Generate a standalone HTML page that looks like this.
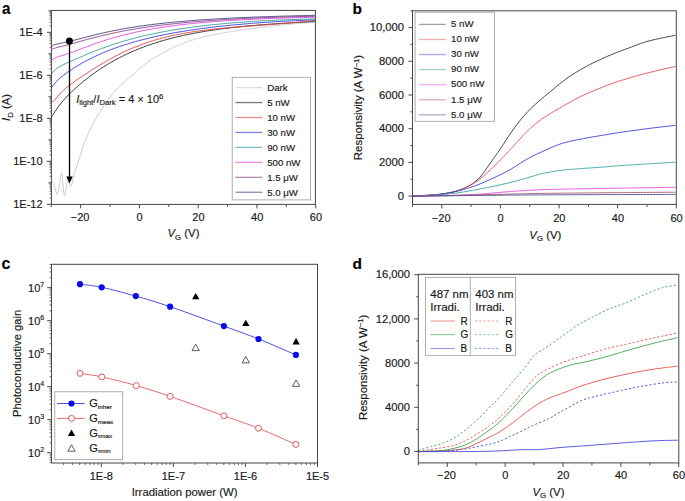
<!DOCTYPE html>
<html><head><meta charset="utf-8"><style>
html,body{margin:0;padding:0;background:#fff;}
body{width:685px;height:501px;overflow:hidden;}
svg{display:block;font-family:"Liberation Sans", sans-serif;}
text{stroke:#1a1a1a;stroke-width:0.16px;paint-order:stroke;}
</style></head><body>
<svg width="685" height="501" viewBox="0 0 685 501">
<rect width="685" height="501" fill="#fff"/>
<text transform="translate(2,13.5) scale(0.95,1)" font-size="16" font-weight="bold" fill="#000" >a</text>
<path d="M51.6,181.7 C51.9,181.82 52.78,181.18 53.4,182.4 C54.02,183.62 54.67,186.97 55.3,189 C55.93,191.03 56.53,195.1 57.2,194.6 C57.87,194.1 58.58,189.67 59.3,186 C60.02,182.33 60.88,172.77 61.5,172.6 C62.12,172.43 62.52,181.12 63,185 C63.48,188.88 63.87,195.4 64.4,195.9 C64.93,196.4 65.6,190.55 66.2,188 C66.8,185.45 67.18,180.93 68,180.6 C68.82,180.27 70.17,186.85 71.1,186 C72.03,185.15 73.18,177.25 73.6,175.5 C74.02,173.75 73.43,175.96 73.6,175.5 C73.77,175.04 74.27,173.66 74.6,172.72 C74.93,171.78 75.27,170.83 75.6,169.86 C75.93,168.89 76.27,167.9 76.6,166.89 C76.93,165.88 77.27,164.84 77.6,163.8 C77.93,162.76 78.27,161.69 78.6,160.63 C78.93,159.56 79.27,158.49 79.6,157.42 C79.93,156.36 80.27,155.3 80.6,154.25 C80.93,153.2 81.27,152.16 81.6,151.14 C81.93,150.13 82.27,149.12 82.6,148.14 C82.93,147.16 83.27,146.19 83.6,145.25 C83.93,144.31 84.27,143.4 84.6,142.51 C84.93,141.61 85.27,140.75 85.6,139.91 C85.93,139.06 86.27,138.25 86.6,137.46 C86.93,136.66 87.27,135.89 87.6,135.14 C87.93,134.39 88.27,133.66 88.6,132.93 C88.93,132.21 89.27,131.5 89.6,130.8 C89.93,130.09 90.27,129.4 90.6,128.71 C90.93,128.02 91.27,127.33 91.6,126.65 C91.93,125.97 92.27,125.3 92.6,124.63 C92.93,123.97 93.27,123.31 93.6,122.66 C93.93,122.02 94.27,121.38 94.6,120.76 C94.93,120.14 95.27,119.53 95.6,118.94 C95.93,118.34 96.27,117.76 96.6,117.19 C96.93,116.62 97.27,116.07 97.6,115.53 C97.93,114.98 98.27,114.45 98.6,113.93 C98.93,113.4 99.27,112.89 99.6,112.37 C99.93,111.86 100.27,111.36 100.6,110.86 C100.93,110.35 101.27,109.85 101.6,109.36 C101.93,108.86 102.27,108.36 102.6,107.87 C102.93,107.37 103.27,106.88 103.6,106.39 C103.93,105.9 104.27,105.4 104.6,104.91 C104.93,104.42 105.27,103.93 105.6,103.44 C105.93,102.96 106.27,102.47 106.6,101.98 C106.93,101.5 107.27,101.02 107.6,100.54 C107.93,100.06 108.27,99.59 108.6,99.12 C108.93,98.65 109.27,98.18 109.6,97.73 C109.93,97.27 110.27,96.81 110.6,96.37 C110.93,95.92 111.27,95.48 111.6,95.05 C111.93,94.62 112.27,94.19 112.6,93.78 C112.93,93.36 113.27,92.95 113.6,92.55 C113.93,92.15 114.27,91.75 114.6,91.37 C114.93,90.99 115.27,90.61 115.6,90.25 C115.93,89.88 116.27,89.53 116.6,89.18 C116.93,88.84 117.27,88.5 117.6,88.17 C117.93,87.84 118.27,87.52 118.6,87.2 C118.93,86.88 119.27,86.57 119.6,86.26 C119.93,85.95 120.27,85.64 120.6,85.34 C120.93,85.03 121.27,84.73 121.6,84.43 C121.93,84.13 122.27,83.83 122.6,83.53 C122.93,83.23 123.27,82.93 123.6,82.64 C123.93,82.34 124.27,82.05 124.6,81.76 C124.93,81.46 125.27,81.17 125.6,80.88 C125.93,80.59 126.27,80.31 126.6,80.02 C126.93,79.73 127.27,79.44 127.6,79.16 C127.93,78.87 128.27,78.58 128.6,78.3 C128.93,78.01 129.27,77.72 129.6,77.44 C129.93,77.15 130.27,76.86 130.6,76.57 C130.93,76.28 131.27,75.98 131.6,75.69 C131.93,75.4 132.27,75.1 132.6,74.8 C132.93,74.51 133.27,74.21 133.6,73.91 C133.93,73.61 134.27,73.3 134.6,73 C134.93,72.7 135.27,72.4 135.6,72.09 C135.93,71.79 136.27,71.48 136.6,71.18 C136.93,70.88 137.27,70.57 137.6,70.27 C137.93,69.97 138.27,69.67 138.6,69.37 C138.93,69.07 139.27,68.77 139.6,68.48 C139.93,68.19 140.27,67.9 140.6,67.61 C140.93,67.33 141.27,67.05 141.6,66.78 C141.93,66.5 142.27,66.23 142.6,65.97 C142.93,65.7 143.27,65.44 143.6,65.19 C143.93,64.93 144.27,64.68 144.6,64.43 C144.93,64.19 145.27,63.94 145.6,63.7 C145.93,63.45 146.27,63.21 146.6,62.97 C146.93,62.73 147.27,62.5 147.6,62.26 C147.93,62.03 148.27,61.8 148.6,61.57 C148.93,61.34 149.27,61.11 149.6,60.89 C149.93,60.67 150.27,60.45 150.6,60.23 C150.93,60.02 151.27,59.8 151.6,59.59 C151.93,59.38 152.27,59.17 152.6,58.97 C152.93,58.76 153.27,58.56 153.6,58.36 C153.93,58.16 154.27,57.96 154.6,57.75 C154.93,57.55 155.27,57.36 155.6,57.16 C155.93,56.96 156.27,56.76 156.6,56.56 C156.93,56.37 157.27,56.17 157.6,55.98 C157.93,55.78 158.27,55.59 158.6,55.39 C158.93,55.2 159.27,55.01 159.6,54.82 C159.93,54.63 160.27,54.44 160.6,54.26 C160.93,54.07 161.27,53.88 161.6,53.7 C161.93,53.51 162.27,53.33 162.6,53.14 C162.93,52.96 163.27,52.77 163.6,52.59 C163.93,52.41 164.27,52.22 164.6,52.04 C164.93,51.86 165.27,51.68 165.6,51.49 C165.93,51.31 166.27,51.13 166.6,50.95 C166.93,50.76 167.27,50.58 167.6,50.4 C167.93,50.22 168.27,50.03 168.6,49.85 C168.93,49.67 169.27,49.49 169.6,49.31 C169.93,49.13 170.27,48.95 170.6,48.77 C170.93,48.59 171.27,48.42 171.6,48.24 C171.93,48.07 172.27,47.9 172.6,47.73 C172.93,47.57 173.27,47.4 173.6,47.24 C173.93,47.09 174.27,46.93 174.6,46.78 C174.93,46.63 175.27,46.48 175.6,46.34 C175.93,46.19 176.27,46.05 176.6,45.91 C176.93,45.77 177.27,45.64 177.6,45.5 C177.93,45.36 178.27,45.23 178.6,45.1 C178.93,44.96 179.27,44.83 179.6,44.7 C179.93,44.56 180.27,44.43 180.6,44.3 C180.93,44.17 181.27,44.03 181.6,43.9 C181.93,43.77 182.27,43.64 182.6,43.5 C182.93,43.37 183.27,43.24 183.6,43.11 C183.93,42.98 184.27,42.85 184.6,42.72 C184.93,42.59 185.27,42.46 185.6,42.33 C185.93,42.2 186.27,42.07 186.6,41.95 C186.93,41.82 187.27,41.7 187.6,41.58 C187.93,41.46 188.27,41.34 188.6,41.23 C188.93,41.11 189.27,41 189.6,40.89 C189.93,40.78 190.27,40.67 190.6,40.56 C190.93,40.45 191.27,40.35 191.6,40.25 C191.93,40.14 192.27,40.04 192.6,39.94 C192.93,39.84 193.27,39.74 193.6,39.63 C193.93,39.53 194.27,39.43 194.6,39.33 C194.93,39.23 195.27,39.13 195.6,39.03 C195.93,38.93 196.27,38.83 196.6,38.73 C196.93,38.63 197.27,38.53 197.6,38.43 C197.93,38.33 198.27,38.23 198.6,38.13 C198.93,38.03 199.27,37.93 199.6,37.83 C199.93,37.74 200.27,37.64 200.6,37.55 C200.93,37.45 201.27,37.36 201.6,37.27 C201.93,37.18 202.27,37.09 202.6,37 C202.93,36.92 203.27,36.83 203.6,36.75 C203.93,36.67 204.27,36.6 204.6,36.52 C204.93,36.45 205.27,36.37 205.6,36.3 C205.93,36.23 206.27,36.16 206.6,36.09 C206.93,36.02 207.27,35.96 207.6,35.89 C207.93,35.82 208.27,35.76 208.6,35.69 C208.93,35.62 209.27,35.56 209.6,35.49 C209.93,35.42 210.27,35.36 210.6,35.29 C210.93,35.22 211.27,35.16 211.6,35.09 C211.93,35.03 212.27,34.96 212.6,34.89 C212.93,34.83 213.27,34.76 213.6,34.7 C213.93,34.63 214.27,34.56 214.6,34.5 C214.93,34.43 215.27,34.37 215.6,34.3 C215.93,34.24 216.27,34.17 216.6,34.11 C216.93,34.05 217.27,33.98 217.6,33.92 C217.93,33.86 218.27,33.8 218.6,33.73 C218.93,33.67 219.27,33.61 219.6,33.55 C219.93,33.49 220.27,33.43 220.6,33.37 C220.93,33.31 221.27,33.25 221.6,33.19 C221.93,33.13 222.27,33.07 222.6,33.01 C222.93,32.95 223.27,32.89 223.6,32.84 C223.93,32.78 224.27,32.72 224.6,32.66 C224.93,32.6 225.27,32.54 225.6,32.48 C225.93,32.42 226.27,32.36 226.6,32.31 C226.93,32.25 227.27,32.19 227.6,32.13 C227.93,32.08 228.27,32.02 228.6,31.96 C228.93,31.91 229.27,31.85 229.6,31.8 C229.93,31.74 230.27,31.69 230.6,31.64 C230.93,31.58 231.27,31.53 231.6,31.48 C231.93,31.43 232.27,31.38 232.6,31.33 C232.93,31.28 233.27,31.23 233.6,31.18 C233.93,31.13 234.27,31.08 234.6,31.03 C234.93,30.99 235.27,30.94 235.6,30.89 C235.93,30.84 236.27,30.79 236.6,30.74 C236.93,30.69 237.27,30.65 237.6,30.6 C237.93,30.55 238.27,30.5 238.6,30.45 C238.93,30.4 239.27,30.36 239.6,30.31 C239.93,30.26 240.27,30.21 240.6,30.16 C240.93,30.11 241.27,30.07 241.6,30.02 C241.93,29.97 242.27,29.92 242.6,29.87 C242.93,29.82 243.27,29.78 243.6,29.73 C243.93,29.68 244.27,29.63 244.6,29.58 C244.93,29.53 245.27,29.49 245.6,29.44 C245.93,29.39 246.27,29.34 246.6,29.29 C246.93,29.25 247.27,29.2 247.6,29.15 C247.93,29.1 248.27,29.06 248.6,29.01 C248.93,28.96 249.27,28.92 249.6,28.87 C249.93,28.83 250.27,28.78 250.6,28.74 C250.93,28.69 251.27,28.65 251.6,28.6 C251.93,28.56 252.27,28.52 252.6,28.47 C252.93,28.43 253.27,28.39 253.6,28.35 C253.93,28.3 254.27,28.26 254.6,28.22 C254.93,28.18 255.27,28.13 255.6,28.09 C255.93,28.05 256.27,28.01 256.6,27.96 C256.93,27.92 257.27,27.88 257.6,27.84 C257.93,27.8 258.27,27.75 258.6,27.71 C258.93,27.67 259.27,27.63 259.6,27.58 C259.93,27.54 260.27,27.5 260.6,27.46 C260.93,27.42 261.27,27.37 261.6,27.33 C261.93,27.29 262.27,27.25 262.6,27.2 C262.93,27.16 263.27,27.12 263.6,27.08 C263.93,27.04 264.27,26.99 264.6,26.95 C264.93,26.91 265.27,26.87 265.6,26.82 C265.93,26.78 266.27,26.74 266.6,26.7 C266.93,26.66 267.27,26.61 267.6,26.57 C267.93,26.53 268.27,26.49 268.6,26.44 C268.93,26.4 269.27,26.36 269.6,26.32 C269.93,26.28 270.27,26.23 270.6,26.19 C270.93,26.15 271.27,26.11 271.6,26.06 C271.93,26.02 272.27,25.98 272.6,25.94 C272.93,25.9 273.27,25.85 273.6,25.81 C273.93,25.77 274.27,25.73 274.6,25.68 C274.93,25.64 275.27,25.6 275.6,25.56 C275.93,25.52 276.27,25.48 276.6,25.43 C276.93,25.39 277.27,25.35 277.6,25.31 C277.93,25.27 278.27,25.23 278.6,25.2 C278.93,25.16 279.27,25.12 279.6,25.08 C279.93,25.05 280.27,25.01 280.6,24.98 C280.93,24.94 281.27,24.91 281.6,24.88 C281.93,24.85 282.27,24.82 282.6,24.78 C282.93,24.75 283.27,24.72 283.6,24.69 C283.93,24.67 284.27,24.64 284.6,24.61 C284.93,24.58 285.27,24.55 285.6,24.52 C285.93,24.49 286.27,24.46 286.6,24.43 C286.93,24.41 287.27,24.38 287.6,24.35 C287.93,24.32 288.27,24.29 288.6,24.26 C288.93,24.23 289.27,24.21 289.6,24.18 C289.93,24.15 290.27,24.12 290.6,24.09 C290.93,24.06 291.27,24.03 291.6,24.01 C291.93,23.98 292.27,23.95 292.6,23.92 C292.93,23.89 293.27,23.86 293.6,23.83 C293.93,23.81 294.27,23.78 294.6,23.75 C294.93,23.72 295.27,23.69 295.6,23.66 C295.93,23.63 296.27,23.61 296.6,23.58 C296.93,23.55 297.27,23.52 297.6,23.49 C297.93,23.46 298.27,23.43 298.6,23.41 C298.93,23.38 299.27,23.35 299.6,23.32 C299.93,23.29 300.27,23.26 300.6,23.23 C300.93,23.21 301.27,23.18 301.6,23.15 C301.93,23.12 302.27,23.09 302.6,23.06 C302.93,23.03 303.27,23.01 303.6,22.98 C303.93,22.95 304.27,22.92 304.6,22.89 C304.93,22.86 305.27,22.83 305.6,22.81 C305.93,22.78 306.27,22.75 306.6,22.72 C306.93,22.69 307.27,22.66 307.6,22.63 C307.93,22.61 308.27,22.58 308.6,22.55 C308.93,22.52 309.27,22.49 309.6,22.46 C309.93,22.43 310.27,22.41 310.6,22.38 C310.93,22.35 311.27,22.32 311.6,22.29 C311.93,22.26 312.27,22.23 312.6,22.21 C312.93,22.18 313.27,22.15 313.6,22.12 C313.93,22.09 314.43,22.05 314.6,22.03" fill="none" stroke="#c4c4c4" stroke-width="0.9" stroke-linejoin="round" />
<path d="M51.6,116.97 C51.93,116.43 52.93,114.79 53.6,113.73 C54.27,112.67 54.93,111.62 55.6,110.61 C56.27,109.61 56.93,108.64 57.6,107.71 C58.27,106.78 58.93,105.89 59.6,105.03 C60.27,104.17 60.93,103.34 61.6,102.53 C62.27,101.72 62.93,100.94 63.6,100.18 C64.27,99.42 64.93,98.68 65.6,97.95 C66.27,97.23 66.93,96.53 67.6,95.83 C68.27,95.14 68.93,94.46 69.6,93.8 C70.27,93.13 70.93,92.48 71.6,91.83 C72.27,91.19 72.93,90.56 73.6,89.94 C74.27,89.31 74.93,88.7 75.6,88.1 C76.27,87.49 76.93,86.9 77.6,86.31 C78.27,85.72 78.93,85.14 79.6,84.57 C80.27,84 80.93,83.43 81.6,82.88 C82.27,82.32 82.93,81.77 83.6,81.23 C84.27,80.68 84.93,80.15 85.6,79.62 C86.27,79.09 86.93,78.57 87.6,78.05 C88.27,77.53 88.93,77.03 89.6,76.52 C90.27,76.02 90.93,75.52 91.6,75.03 C92.27,74.54 92.93,74.05 93.6,73.57 C94.27,73.09 94.93,72.62 95.6,72.15 C96.27,71.69 96.93,71.22 97.6,70.77 C98.27,70.31 98.93,69.86 99.6,69.42 C100.27,68.97 100.93,68.53 101.6,68.1 C102.27,67.67 102.93,67.24 103.6,66.82 C104.27,66.39 104.93,65.97 105.6,65.56 C106.27,65.15 106.93,64.74 107.6,64.34 C108.27,63.94 108.93,63.54 109.6,63.15 C110.27,62.76 110.93,62.37 111.6,61.99 C112.27,61.61 112.93,61.23 113.6,60.86 C114.27,60.49 114.93,60.12 115.6,59.76 C116.27,59.39 116.93,59.03 117.6,58.68 C118.27,58.33 118.93,57.98 119.6,57.63 C120.27,57.29 120.93,56.95 121.6,56.61 C122.27,56.28 122.93,55.95 123.6,55.62 C124.27,55.29 124.93,54.97 125.6,54.65 C126.27,54.33 126.93,54.02 127.6,53.71 C128.27,53.4 128.93,53.09 129.6,52.79 C130.27,52.49 130.93,52.19 131.6,51.9 C132.27,51.6 132.93,51.31 133.6,51.03 C134.27,50.74 134.93,50.46 135.6,50.18 C136.27,49.9 136.93,49.62 137.6,49.35 C138.27,49.08 138.93,48.81 139.6,48.55 C140.27,48.28 140.93,48.02 141.6,47.76 C142.27,47.51 142.93,47.25 143.6,47 C144.27,46.75 144.93,46.5 145.6,46.26 C146.27,46.02 146.93,45.78 147.6,45.54 C148.27,45.3 148.93,45.07 149.6,44.83 C150.27,44.6 150.93,44.38 151.6,44.15 C152.27,43.93 152.93,43.7 153.6,43.48 C154.27,43.26 154.93,43.05 155.6,42.84 C156.27,42.62 156.93,42.41 157.6,42.2 C158.27,42 158.93,41.79 159.6,41.59 C160.27,41.39 160.93,41.19 161.6,40.99 C162.27,40.8 162.93,40.6 163.6,40.41 C164.27,40.22 164.93,40.03 165.6,39.84 C166.27,39.66 166.93,39.47 167.6,39.29 C168.27,39.11 168.93,38.93 169.6,38.76 C170.27,38.58 170.93,38.41 171.6,38.23 C172.27,38.06 172.93,37.89 173.6,37.73 C174.27,37.56 174.93,37.39 175.6,37.23 C176.27,37.07 176.93,36.91 177.6,36.75 C178.27,36.59 178.93,36.44 179.6,36.28 C180.27,36.13 180.93,35.98 181.6,35.83 C182.27,35.68 182.93,35.53 183.6,35.38 C184.27,35.24 184.93,35.09 185.6,34.95 C186.27,34.81 186.93,34.67 187.6,34.53 C188.27,34.39 188.93,34.26 189.6,34.12 C190.27,33.99 190.93,33.86 191.6,33.73 C192.27,33.6 192.93,33.47 193.6,33.34 C194.27,33.21 194.93,33.09 195.6,32.96 C196.27,32.84 196.93,32.72 197.6,32.6 C198.27,32.48 198.93,32.36 199.6,32.24 C200.27,32.12 200.93,32.01 201.6,31.89 C202.27,31.78 202.93,31.67 203.6,31.56 C204.27,31.44 204.93,31.34 205.6,31.23 C206.27,31.12 206.93,31.01 207.6,30.91 C208.27,30.8 208.93,30.7 209.6,30.6 C210.27,30.49 210.93,30.39 211.6,30.29 C212.27,30.19 212.93,30.09 213.6,30 C214.27,29.9 214.93,29.8 215.6,29.71 C216.27,29.62 216.93,29.52 217.6,29.43 C218.27,29.34 218.93,29.25 219.6,29.16 C220.27,29.07 220.93,28.98 221.6,28.89 C222.27,28.81 222.93,28.72 223.6,28.64 C224.27,28.55 224.93,28.47 225.6,28.38 C226.27,28.3 226.93,28.22 227.6,28.14 C228.27,28.06 228.93,27.98 229.6,27.9 C230.27,27.82 230.93,27.74 231.6,27.67 C232.27,27.59 232.93,27.52 233.6,27.44 C234.27,27.37 234.93,27.29 235.6,27.22 C236.27,27.15 236.93,27.08 237.6,27.01 C238.27,26.94 238.93,26.87 239.6,26.8 C240.27,26.73 240.93,26.66 241.6,26.59 C242.27,26.53 242.93,26.46 243.6,26.39 C244.27,26.33 244.93,26.26 245.6,26.2 C246.27,26.14 246.93,26.07 247.6,26.01 C248.27,25.95 248.93,25.89 249.6,25.83 C250.27,25.76 250.93,25.7 251.6,25.65 C252.27,25.59 252.93,25.53 253.6,25.47 C254.27,25.41 254.93,25.35 255.6,25.3 C256.27,25.24 256.93,25.19 257.6,25.13 C258.27,25.07 258.93,25.02 259.6,24.97 C260.27,24.91 260.93,24.86 261.6,24.81 C262.27,24.75 262.93,24.7 263.6,24.65 C264.27,24.6 264.93,24.55 265.6,24.5 C266.27,24.45 266.93,24.4 267.6,24.35 C268.27,24.3 268.93,24.25 269.6,24.2 C270.27,24.15 270.93,24.11 271.6,24.06 C272.27,24.01 272.93,23.97 273.6,23.92 C274.27,23.87 274.93,23.83 275.6,23.78 C276.27,23.74 276.93,23.69 277.6,23.65 C278.27,23.6 278.93,23.56 279.6,23.52 C280.27,23.47 280.93,23.43 281.6,23.39 C282.27,23.35 282.93,23.3 283.6,23.26 C284.27,23.22 284.93,23.18 285.6,23.14 C286.27,23.1 286.93,23.06 287.6,23.02 C288.27,22.98 288.93,22.94 289.6,22.9 C290.27,22.86 290.93,22.82 291.6,22.78 C292.27,22.74 292.93,22.7 293.6,22.66 C294.27,22.63 294.93,22.59 295.6,22.55 C296.27,22.51 296.93,22.48 297.6,22.44 C298.27,22.4 298.93,22.37 299.6,22.33 C300.27,22.29 300.93,22.26 301.6,22.22 C302.27,22.19 302.93,22.15 303.6,22.11 C304.27,22.08 304.93,22.04 305.6,22.01 C306.27,21.97 306.93,21.94 307.6,21.91 C308.27,21.87 308.93,21.84 309.6,21.8 C310.27,21.77 310.93,21.74 311.6,21.7 C312.27,21.67 313.03,21.63 313.6,21.6 C314.17,21.57 314.77,21.54 315,21.53" fill="none" stroke="#222222" stroke-width="0.9" stroke-linejoin="round" />
<path d="M51.6,102.12 C51.93,101.98 52.93,101.8 53.6,101.29 C54.27,100.79 54.93,99.86 55.6,99.08 C56.27,98.29 56.93,97.41 57.6,96.6 C58.27,95.8 58.93,95 59.6,94.24 C60.27,93.49 60.93,92.77 61.6,92.08 C62.27,91.4 62.93,90.75 63.6,90.13 C64.27,89.5 64.93,88.91 65.6,88.33 C66.27,87.76 66.93,87.21 67.6,86.67 C68.27,86.14 68.93,85.62 69.6,85.11 C70.27,84.6 70.93,84.11 71.6,83.62 C72.27,83.13 72.93,82.65 73.6,82.18 C74.27,81.7 74.93,81.24 75.6,80.77 C76.27,80.31 76.93,79.85 77.6,79.39 C78.27,78.94 78.93,78.49 79.6,78.04 C80.27,77.59 80.93,77.14 81.6,76.69 C82.27,76.25 82.93,75.81 83.6,75.36 C84.27,74.92 84.93,74.48 85.6,74.05 C86.27,73.61 86.93,73.17 87.6,72.74 C88.27,72.31 88.93,71.87 89.6,71.44 C90.27,71.01 90.93,70.59 91.6,70.16 C92.27,69.73 92.93,69.31 93.6,68.89 C94.27,68.47 94.93,68.05 95.6,67.63 C96.27,67.22 96.93,66.8 97.6,66.39 C98.27,65.98 98.93,65.57 99.6,65.17 C100.27,64.76 100.93,64.36 101.6,63.96 C102.27,63.56 102.93,63.17 103.6,62.78 C104.27,62.38 104.93,61.99 105.6,61.61 C106.27,61.22 106.93,60.84 107.6,60.46 C108.27,60.08 108.93,59.71 109.6,59.34 C110.27,58.96 110.93,58.6 111.6,58.23 C112.27,57.87 112.93,57.51 113.6,57.15 C114.27,56.79 114.93,56.44 115.6,56.09 C116.27,55.75 116.93,55.4 117.6,55.06 C118.27,54.72 118.93,54.38 119.6,54.05 C120.27,53.72 120.93,53.39 121.6,53.06 C122.27,52.74 122.93,52.42 123.6,52.1 C124.27,51.79 124.93,51.47 125.6,51.17 C126.27,50.86 126.93,50.55 127.6,50.25 C128.27,49.95 128.93,49.66 129.6,49.36 C130.27,49.07 130.93,48.78 131.6,48.5 C132.27,48.21 132.93,47.93 133.6,47.66 C134.27,47.38 134.93,47.11 135.6,46.84 C136.27,46.57 136.93,46.31 137.6,46.05 C138.27,45.79 138.93,45.53 139.6,45.28 C140.27,45.02 140.93,44.77 141.6,44.53 C142.27,44.28 142.93,44.04 143.6,43.8 C144.27,43.57 144.93,43.33 145.6,43.1 C146.27,42.87 146.93,42.64 147.6,42.42 C148.27,42.2 148.93,41.98 149.6,41.76 C150.27,41.54 150.93,41.33 151.6,41.12 C152.27,40.91 152.93,40.71 153.6,40.5 C154.27,40.3 154.93,40.1 155.6,39.91 C156.27,39.71 156.93,39.52 157.6,39.33 C158.27,39.14 158.93,38.95 159.6,38.77 C160.27,38.59 160.93,38.41 161.6,38.23 C162.27,38.05 162.93,37.88 163.6,37.71 C164.27,37.53 164.93,37.37 165.6,37.2 C166.27,37.04 166.93,36.87 167.6,36.71 C168.27,36.55 168.93,36.4 169.6,36.24 C170.27,36.09 170.93,35.94 171.6,35.79 C172.27,35.64 172.93,35.49 173.6,35.35 C174.27,35.21 174.93,35.06 175.6,34.93 C176.27,34.79 176.93,34.65 177.6,34.52 C178.27,34.38 178.93,34.25 179.6,34.12 C180.27,33.99 180.93,33.87 181.6,33.74 C182.27,33.62 182.93,33.5 183.6,33.38 C184.27,33.26 184.93,33.14 185.6,33.02 C186.27,32.91 186.93,32.79 187.6,32.68 C188.27,32.57 188.93,32.46 189.6,32.35 C190.27,32.24 190.93,32.14 191.6,32.03 C192.27,31.93 192.93,31.83 193.6,31.73 C194.27,31.63 194.93,31.53 195.6,31.43 C196.27,31.33 196.93,31.24 197.6,31.14 C198.27,31.05 198.93,30.96 199.6,30.87 C200.27,30.78 200.93,30.69 201.6,30.6 C202.27,30.51 202.93,30.43 203.6,30.34 C204.27,30.26 204.93,30.18 205.6,30.09 C206.27,30.01 206.93,29.93 207.6,29.85 C208.27,29.77 208.93,29.7 209.6,29.62 C210.27,29.54 210.93,29.47 211.6,29.4 C212.27,29.32 212.93,29.25 213.6,29.18 C214.27,29.1 214.93,29.03 215.6,28.96 C216.27,28.9 216.93,28.83 217.6,28.76 C218.27,28.69 218.93,28.63 219.6,28.56 C220.27,28.49 220.93,28.43 221.6,28.37 C222.27,28.3 222.93,28.24 223.6,28.18 C224.27,28.11 224.93,28.05 225.6,27.99 C226.27,27.93 226.93,27.87 227.6,27.81 C228.27,27.75 228.93,27.7 229.6,27.64 C230.27,27.58 230.93,27.52 231.6,27.47 C232.27,27.41 232.93,27.35 233.6,27.3 C234.27,27.24 234.93,27.19 235.6,27.14 C236.27,27.08 236.93,27.03 237.6,26.97 C238.27,26.92 238.93,26.87 239.6,26.82 C240.27,26.76 240.93,26.71 241.6,26.66 C242.27,26.61 242.93,26.56 243.6,26.51 C244.27,26.45 244.93,26.4 245.6,26.35 C246.27,26.3 246.93,26.25 247.6,26.2 C248.27,26.15 248.93,26.1 249.6,26.05 C250.27,26 250.93,25.95 251.6,25.91 C252.27,25.86 252.93,25.81 253.6,25.76 C254.27,25.71 254.93,25.66 255.6,25.61 C256.27,25.56 256.93,25.51 257.6,25.46 C258.27,25.42 258.93,25.37 259.6,25.32 C260.27,25.27 260.93,25.22 261.6,25.17 C262.27,25.12 262.93,25.07 263.6,25.02 C264.27,24.97 264.93,24.93 265.6,24.88 C266.27,24.83 266.93,24.78 267.6,24.73 C268.27,24.68 268.93,24.63 269.6,24.58 C270.27,24.53 270.93,24.48 271.6,24.43 C272.27,24.38 272.93,24.33 273.6,24.27 C274.27,24.22 274.93,24.17 275.6,24.12 C276.27,24.07 276.93,24.02 277.6,23.96 C278.27,23.91 278.93,23.86 279.6,23.81 C280.27,23.75 280.93,23.7 281.6,23.65 C282.27,23.59 282.93,23.54 283.6,23.48 C284.27,23.43 284.93,23.37 285.6,23.32 C286.27,23.26 286.93,23.21 287.6,23.15 C288.27,23.09 288.93,23.04 289.6,22.98 C290.27,22.92 290.93,22.86 291.6,22.8 C292.27,22.74 292.93,22.69 293.6,22.63 C294.27,22.57 294.93,22.51 295.6,22.44 C296.27,22.38 296.93,22.32 297.6,22.26 C298.27,22.2 298.93,22.13 299.6,22.07 C300.27,22.01 300.93,21.94 301.6,21.88 C302.27,21.81 302.93,21.75 303.6,21.68 C304.27,21.61 304.93,21.55 305.6,21.48 C306.27,21.41 306.93,21.34 307.6,21.27 C308.27,21.21 308.93,21.14 309.6,21.06 C310.27,20.99 310.93,20.92 311.6,20.85 C312.27,20.78 313.03,20.69 313.6,20.63 C314.17,20.57 314.77,20.5 315,20.47" fill="none" stroke="#e0403a" stroke-width="0.9" stroke-linejoin="round" />
<path d="M51.6,87.67 C51.93,87.17 52.93,85.57 53.6,84.67 C54.27,83.77 54.93,83.02 55.6,82.28 C56.27,81.55 56.93,80.89 57.6,80.25 C58.27,79.6 58.93,79.01 59.6,78.42 C60.27,77.84 60.93,77.28 61.6,76.74 C62.27,76.19 62.93,75.67 63.6,75.16 C64.27,74.64 64.93,74.14 65.6,73.65 C66.27,73.16 66.93,72.68 67.6,72.21 C68.27,71.74 68.93,71.28 69.6,70.82 C70.27,70.37 70.93,69.92 71.6,69.48 C72.27,69.04 72.93,68.61 73.6,68.18 C74.27,67.76 74.93,67.34 75.6,66.92 C76.27,66.51 76.93,66.1 77.6,65.7 C78.27,65.3 78.93,64.91 79.6,64.52 C80.27,64.13 80.93,63.74 81.6,63.37 C82.27,62.99 82.93,62.61 83.6,62.25 C84.27,61.88 84.93,61.52 85.6,61.16 C86.27,60.8 86.93,60.45 87.6,60.1 C88.27,59.75 88.93,59.41 89.6,59.07 C90.27,58.73 90.93,58.4 91.6,58.07 C92.27,57.74 92.93,57.42 93.6,57.09 C94.27,56.77 94.93,56.46 95.6,56.15 C96.27,55.83 96.93,55.53 97.6,55.22 C98.27,54.92 98.93,54.62 99.6,54.33 C100.27,54.03 100.93,53.74 101.6,53.45 C102.27,53.16 102.93,52.88 103.6,52.6 C104.27,52.32 104.93,52.04 105.6,51.77 C106.27,51.5 106.93,51.23 107.6,50.96 C108.27,50.7 108.93,50.43 109.6,50.18 C110.27,49.92 110.93,49.66 111.6,49.41 C112.27,49.16 112.93,48.91 113.6,48.66 C114.27,48.42 114.93,48.17 115.6,47.93 C116.27,47.69 116.93,47.46 117.6,47.22 C118.27,46.99 118.93,46.76 119.6,46.53 C120.27,46.3 120.93,46.08 121.6,45.85 C122.27,45.63 122.93,45.41 123.6,45.2 C124.27,44.98 124.93,44.76 125.6,44.55 C126.27,44.34 126.93,44.13 127.6,43.93 C128.27,43.72 128.93,43.52 129.6,43.31 C130.27,43.11 130.93,42.91 131.6,42.72 C132.27,42.52 132.93,42.33 133.6,42.14 C134.27,41.94 134.93,41.75 135.6,41.57 C136.27,41.38 136.93,41.19 137.6,41.01 C138.27,40.83 138.93,40.65 139.6,40.47 C140.27,40.29 140.93,40.11 141.6,39.94 C142.27,39.77 142.93,39.59 143.6,39.42 C144.27,39.25 144.93,39.08 145.6,38.92 C146.27,38.75 146.93,38.59 147.6,38.43 C148.27,38.26 148.93,38.1 149.6,37.94 C150.27,37.78 150.93,37.63 151.6,37.47 C152.27,37.32 152.93,37.16 153.6,37.01 C154.27,36.86 154.93,36.71 155.6,36.56 C156.27,36.41 156.93,36.27 157.6,36.12 C158.27,35.98 158.93,35.84 159.6,35.69 C160.27,35.55 160.93,35.41 161.6,35.27 C162.27,35.14 162.93,35 163.6,34.86 C164.27,34.73 164.93,34.59 165.6,34.46 C166.27,34.33 166.93,34.2 167.6,34.07 C168.27,33.94 168.93,33.81 169.6,33.69 C170.27,33.56 170.93,33.43 171.6,33.31 C172.27,33.19 172.93,33.07 173.6,32.94 C174.27,32.82 174.93,32.7 175.6,32.59 C176.27,32.47 176.93,32.35 177.6,32.23 C178.27,32.12 178.93,32 179.6,31.89 C180.27,31.78 180.93,31.67 181.6,31.55 C182.27,31.44 182.93,31.33 183.6,31.23 C184.27,31.12 184.93,31.01 185.6,30.9 C186.27,30.8 186.93,30.69 187.6,30.59 C188.27,30.49 188.93,30.38 189.6,30.28 C190.27,30.18 190.93,30.08 191.6,29.98 C192.27,29.88 192.93,29.78 193.6,29.69 C194.27,29.59 194.93,29.49 195.6,29.4 C196.27,29.3 196.93,29.21 197.6,29.12 C198.27,29.02 198.93,28.93 199.6,28.84 C200.27,28.75 200.93,28.66 201.6,28.57 C202.27,28.48 202.93,28.39 203.6,28.3 C204.27,28.22 204.93,28.13 205.6,28.04 C206.27,27.96 206.93,27.88 207.6,27.79 C208.27,27.71 208.93,27.63 209.6,27.54 C210.27,27.46 210.93,27.38 211.6,27.3 C212.27,27.22 212.93,27.14 213.6,27.06 C214.27,26.98 214.93,26.91 215.6,26.83 C216.27,26.75 216.93,26.68 217.6,26.6 C218.27,26.53 218.93,26.45 219.6,26.38 C220.27,26.31 220.93,26.23 221.6,26.16 C222.27,26.09 222.93,26.02 223.6,25.95 C224.27,25.88 224.93,25.81 225.6,25.74 C226.27,25.67 226.93,25.6 227.6,25.53 C228.27,25.47 228.93,25.4 229.6,25.33 C230.27,25.27 230.93,25.2 231.6,25.14 C232.27,25.07 232.93,25.01 233.6,24.94 C234.27,24.88 234.93,24.82 235.6,24.76 C236.27,24.69 236.93,24.63 237.6,24.57 C238.27,24.51 238.93,24.45 239.6,24.39 C240.27,24.33 240.93,24.27 241.6,24.22 C242.27,24.16 242.93,24.1 243.6,24.04 C244.27,23.99 244.93,23.93 245.6,23.87 C246.27,23.82 246.93,23.76 247.6,23.71 C248.27,23.65 248.93,23.6 249.6,23.55 C250.27,23.49 250.93,23.44 251.6,23.39 C252.27,23.34 252.93,23.28 253.6,23.23 C254.27,23.18 254.93,23.13 255.6,23.08 C256.27,23.03 256.93,22.98 257.6,22.93 C258.27,22.88 258.93,22.84 259.6,22.79 C260.27,22.74 260.93,22.69 261.6,22.65 C262.27,22.6 262.93,22.55 263.6,22.51 C264.27,22.46 264.93,22.42 265.6,22.37 C266.27,22.33 266.93,22.28 267.6,22.24 C268.27,22.19 268.93,22.15 269.6,22.11 C270.27,22.06 270.93,22.02 271.6,21.98 C272.27,21.94 272.93,21.9 273.6,21.86 C274.27,21.81 274.93,21.77 275.6,21.73 C276.27,21.69 276.93,21.65 277.6,21.62 C278.27,21.58 278.93,21.54 279.6,21.5 C280.27,21.46 280.93,21.42 281.6,21.38 C282.27,21.35 282.93,21.31 283.6,21.27 C284.27,21.24 284.93,21.2 285.6,21.16 C286.27,21.13 286.93,21.09 287.6,21.06 C288.27,21.02 288.93,20.99 289.6,20.95 C290.27,20.92 290.93,20.89 291.6,20.85 C292.27,20.82 292.93,20.79 293.6,20.75 C294.27,20.72 294.93,20.69 295.6,20.66 C296.27,20.62 296.93,20.59 297.6,20.56 C298.27,20.53 298.93,20.5 299.6,20.47 C300.27,20.44 300.93,20.41 301.6,20.38 C302.27,20.35 302.93,20.32 303.6,20.29 C304.27,20.26 304.93,20.23 305.6,20.2 C306.27,20.18 306.93,20.15 307.6,20.12 C308.27,20.09 308.93,20.07 309.6,20.04 C310.27,20.01 310.93,19.99 311.6,19.96 C312.27,19.93 313.03,19.9 313.6,19.88 C314.17,19.86 314.77,19.84 315,19.83" fill="none" stroke="#3434d8" stroke-width="0.9" stroke-linejoin="round" />
<path d="M51.6,74.32 C51.93,73.81 52.93,72.12 53.6,71.28 C54.27,70.44 54.93,69.85 55.6,69.27 C56.27,68.69 56.93,68.24 57.6,67.8 C58.27,67.35 58.93,66.97 59.6,66.59 C60.27,66.22 60.93,65.88 61.6,65.54 C62.27,65.21 62.93,64.89 63.6,64.57 C64.27,64.25 64.93,63.95 65.6,63.64 C66.27,63.33 66.93,63.03 67.6,62.73 C68.27,62.43 68.93,62.13 69.6,61.84 C70.27,61.54 70.93,61.24 71.6,60.95 C72.27,60.65 72.93,60.36 73.6,60.06 C74.27,59.77 74.93,59.48 75.6,59.18 C76.27,58.89 76.93,58.6 77.6,58.31 C78.27,58.02 78.93,57.73 79.6,57.44 C80.27,57.15 80.93,56.86 81.6,56.57 C82.27,56.29 82.93,56 83.6,55.72 C84.27,55.44 84.93,55.15 85.6,54.87 C86.27,54.59 86.93,54.31 87.6,54.04 C88.27,53.76 88.93,53.49 89.6,53.21 C90.27,52.94 90.93,52.67 91.6,52.4 C92.27,52.13 92.93,51.86 93.6,51.6 C94.27,51.33 94.93,51.07 95.6,50.81 C96.27,50.55 96.93,50.29 97.6,50.04 C98.27,49.78 98.93,49.53 99.6,49.27 C100.27,49.02 100.93,48.77 101.6,48.53 C102.27,48.28 102.93,48.04 103.6,47.79 C104.27,47.55 104.93,47.31 105.6,47.07 C106.27,46.84 106.93,46.6 107.6,46.37 C108.27,46.14 108.93,45.91 109.6,45.68 C110.27,45.45 110.93,45.22 111.6,45 C112.27,44.78 112.93,44.55 113.6,44.34 C114.27,44.12 114.93,43.9 115.6,43.69 C116.27,43.47 116.93,43.26 117.6,43.05 C118.27,42.84 118.93,42.63 119.6,42.43 C120.27,42.22 120.93,42.02 121.6,41.82 C122.27,41.62 122.93,41.42 123.6,41.22 C124.27,41.03 124.93,40.83 125.6,40.64 C126.27,40.45 126.93,40.26 127.6,40.07 C128.27,39.88 128.93,39.69 129.6,39.51 C130.27,39.33 130.93,39.14 131.6,38.96 C132.27,38.78 132.93,38.61 133.6,38.43 C134.27,38.25 134.93,38.08 135.6,37.91 C136.27,37.74 136.93,37.57 137.6,37.4 C138.27,37.23 138.93,37.06 139.6,36.9 C140.27,36.74 140.93,36.57 141.6,36.41 C142.27,36.25 142.93,36.09 143.6,35.94 C144.27,35.78 144.93,35.62 145.6,35.47 C146.27,35.32 146.93,35.17 147.6,35.02 C148.27,34.87 148.93,34.72 149.6,34.57 C150.27,34.42 150.93,34.28 151.6,34.14 C152.27,33.99 152.93,33.85 153.6,33.71 C154.27,33.57 154.93,33.43 155.6,33.29 C156.27,33.16 156.93,33.02 157.6,32.89 C158.27,32.76 158.93,32.62 159.6,32.49 C160.27,32.36 160.93,32.23 161.6,32.1 C162.27,31.98 162.93,31.85 163.6,31.73 C164.27,31.6 164.93,31.48 165.6,31.36 C166.27,31.23 166.93,31.11 167.6,30.99 C168.27,30.88 168.93,30.76 169.6,30.64 C170.27,30.52 170.93,30.41 171.6,30.3 C172.27,30.18 172.93,30.07 173.6,29.96 C174.27,29.85 174.93,29.74 175.6,29.63 C176.27,29.52 176.93,29.41 177.6,29.31 C178.27,29.2 178.93,29.1 179.6,28.99 C180.27,28.89 180.93,28.79 181.6,28.69 C182.27,28.59 182.93,28.49 183.6,28.39 C184.27,28.29 184.93,28.19 185.6,28.09 C186.27,28 186.93,27.9 187.6,27.81 C188.27,27.71 188.93,27.62 189.6,27.53 C190.27,27.44 190.93,27.34 191.6,27.25 C192.27,27.16 192.93,27.08 193.6,26.99 C194.27,26.9 194.93,26.81 195.6,26.73 C196.27,26.64 196.93,26.56 197.6,26.47 C198.27,26.39 198.93,26.31 199.6,26.23 C200.27,26.14 200.93,26.06 201.6,25.98 C202.27,25.9 202.93,25.82 203.6,25.75 C204.27,25.67 204.93,25.59 205.6,25.52 C206.27,25.44 206.93,25.36 207.6,25.29 C208.27,25.22 208.93,25.14 209.6,25.07 C210.27,25 210.93,24.93 211.6,24.86 C212.27,24.79 212.93,24.72 213.6,24.65 C214.27,24.58 214.93,24.51 215.6,24.44 C216.27,24.37 216.93,24.31 217.6,24.24 C218.27,24.18 218.93,24.11 219.6,24.05 C220.27,23.98 220.93,23.92 221.6,23.86 C222.27,23.8 222.93,23.73 223.6,23.67 C224.27,23.61 224.93,23.55 225.6,23.49 C226.27,23.43 226.93,23.37 227.6,23.32 C228.27,23.26 228.93,23.2 229.6,23.14 C230.27,23.09 230.93,23.03 231.6,22.98 C232.27,22.92 232.93,22.87 233.6,22.81 C234.27,22.76 234.93,22.71 235.6,22.65 C236.27,22.6 236.93,22.55 237.6,22.5 C238.27,22.45 238.93,22.4 239.6,22.35 C240.27,22.3 240.93,22.25 241.6,22.2 C242.27,22.15 242.93,22.11 243.6,22.06 C244.27,22.01 244.93,21.96 245.6,21.92 C246.27,21.87 246.93,21.83 247.6,21.78 C248.27,21.74 248.93,21.69 249.6,21.65 C250.27,21.61 250.93,21.56 251.6,21.52 C252.27,21.48 252.93,21.44 253.6,21.4 C254.27,21.36 254.93,21.31 255.6,21.27 C256.27,21.23 256.93,21.2 257.6,21.16 C258.27,21.12 258.93,21.08 259.6,21.04 C260.27,21 260.93,20.97 261.6,20.93 C262.27,20.89 262.93,20.86 263.6,20.82 C264.27,20.78 264.93,20.75 265.6,20.71 C266.27,20.68 266.93,20.64 267.6,20.61 C268.27,20.58 268.93,20.54 269.6,20.51 C270.27,20.48 270.93,20.45 271.6,20.41 C272.27,20.38 272.93,20.35 273.6,20.32 C274.27,20.29 274.93,20.26 275.6,20.23 C276.27,20.2 276.93,20.17 277.6,20.14 C278.27,20.11 278.93,20.08 279.6,20.05 C280.27,20.03 280.93,20 281.6,19.97 C282.27,19.94 282.93,19.92 283.6,19.89 C284.27,19.86 284.93,19.84 285.6,19.81 C286.27,19.79 286.93,19.76 287.6,19.74 C288.27,19.71 288.93,19.69 289.6,19.66 C290.27,19.64 290.93,19.62 291.6,19.59 C292.27,19.57 292.93,19.55 293.6,19.52 C294.27,19.5 294.93,19.48 295.6,19.46 C296.27,19.44 296.93,19.42 297.6,19.39 C298.27,19.37 298.93,19.35 299.6,19.33 C300.27,19.31 300.93,19.29 301.6,19.27 C302.27,19.25 302.93,19.24 303.6,19.22 C304.27,19.2 304.93,19.18 305.6,19.16 C306.27,19.14 306.93,19.13 307.6,19.11 C308.27,19.09 308.93,19.07 309.6,19.06 C310.27,19.04 310.93,19.03 311.6,19.01 C312.27,18.99 313.03,18.98 313.6,18.96 C314.17,18.95 314.77,18.94 315,18.93" fill="none" stroke="#2e9a96" stroke-width="0.9" stroke-linejoin="round" />
<path d="M51.6,60.65 C51.93,60.34 52.93,59.3 53.6,58.81 C54.27,58.33 54.93,58.04 55.6,57.74 C56.27,57.43 56.93,57.21 57.6,56.98 C58.27,56.75 58.93,56.56 59.6,56.35 C60.27,56.15 60.93,55.95 61.6,55.75 C62.27,55.55 62.93,55.35 63.6,55.14 C64.27,54.94 64.93,54.73 65.6,54.51 C66.27,54.29 66.93,54.07 67.6,53.85 C68.27,53.62 68.93,53.39 69.6,53.16 C70.27,52.92 70.93,52.68 71.6,52.44 C72.27,52.2 72.93,51.96 73.6,51.71 C74.27,51.46 74.93,51.21 75.6,50.96 C76.27,50.71 76.93,50.46 77.6,50.21 C78.27,49.95 78.93,49.7 79.6,49.44 C80.27,49.19 80.93,48.93 81.6,48.68 C82.27,48.43 82.93,48.17 83.6,47.92 C84.27,47.67 84.93,47.41 85.6,47.16 C86.27,46.91 86.93,46.66 87.6,46.41 C88.27,46.16 88.93,45.91 89.6,45.67 C90.27,45.42 90.93,45.18 91.6,44.93 C92.27,44.69 92.93,44.45 93.6,44.21 C94.27,43.97 94.93,43.74 95.6,43.5 C96.27,43.27 96.93,43.03 97.6,42.8 C98.27,42.57 98.93,42.35 99.6,42.12 C100.27,41.89 100.93,41.67 101.6,41.45 C102.27,41.23 102.93,41.01 103.6,40.79 C104.27,40.58 104.93,40.36 105.6,40.15 C106.27,39.94 106.93,39.73 107.6,39.52 C108.27,39.32 108.93,39.11 109.6,38.91 C110.27,38.71 110.93,38.51 111.6,38.31 C112.27,38.11 112.93,37.92 113.6,37.73 C114.27,37.53 114.93,37.34 115.6,37.15 C116.27,36.97 116.93,36.78 117.6,36.6 C118.27,36.42 118.93,36.23 119.6,36.06 C120.27,35.88 120.93,35.7 121.6,35.53 C122.27,35.35 122.93,35.18 123.6,35.01 C124.27,34.84 124.93,34.67 125.6,34.51 C126.27,34.34 126.93,34.18 127.6,34.02 C128.27,33.86 128.93,33.7 129.6,33.54 C130.27,33.38 130.93,33.23 131.6,33.08 C132.27,32.92 132.93,32.77 133.6,32.62 C134.27,32.47 134.93,32.33 135.6,32.18 C136.27,32.04 136.93,31.9 137.6,31.75 C138.27,31.61 138.93,31.47 139.6,31.34 C140.27,31.2 140.93,31.06 141.6,30.93 C142.27,30.8 142.93,30.66 143.6,30.53 C144.27,30.4 144.93,30.27 145.6,30.15 C146.27,30.02 146.93,29.89 147.6,29.77 C148.27,29.65 148.93,29.53 149.6,29.41 C150.27,29.29 150.93,29.17 151.6,29.05 C152.27,28.93 152.93,28.82 153.6,28.7 C154.27,28.59 154.93,28.48 155.6,28.37 C156.27,28.25 156.93,28.15 157.6,28.04 C158.27,27.93 158.93,27.82 159.6,27.72 C160.27,27.61 160.93,27.51 161.6,27.41 C162.27,27.3 162.93,27.2 163.6,27.1 C164.27,27 164.93,26.91 165.6,26.81 C166.27,26.71 166.93,26.62 167.6,26.52 C168.27,26.43 168.93,26.33 169.6,26.24 C170.27,26.15 170.93,26.06 171.6,25.97 C172.27,25.88 172.93,25.79 173.6,25.7 C174.27,25.62 174.93,25.53 175.6,25.45 C176.27,25.36 176.93,25.28 177.6,25.19 C178.27,25.11 178.93,25.03 179.6,24.95 C180.27,24.87 180.93,24.79 181.6,24.71 C182.27,24.63 182.93,24.56 183.6,24.48 C184.27,24.4 184.93,24.33 185.6,24.25 C186.27,24.18 186.93,24.11 187.6,24.03 C188.27,23.96 188.93,23.89 189.6,23.82 C190.27,23.75 190.93,23.68 191.6,23.61 C192.27,23.54 192.93,23.47 193.6,23.41 C194.27,23.34 194.93,23.28 195.6,23.21 C196.27,23.15 196.93,23.08 197.6,23.02 C198.27,22.95 198.93,22.89 199.6,22.83 C200.27,22.77 200.93,22.71 201.6,22.65 C202.27,22.59 202.93,22.53 203.6,22.47 C204.27,22.41 204.93,22.35 205.6,22.3 C206.27,22.24 206.93,22.18 207.6,22.13 C208.27,22.07 208.93,22.02 209.6,21.96 C210.27,21.91 210.93,21.85 211.6,21.8 C212.27,21.75 212.93,21.7 213.6,21.65 C214.27,21.59 214.93,21.54 215.6,21.49 C216.27,21.44 216.93,21.39 217.6,21.35 C218.27,21.3 218.93,21.25 219.6,21.2 C220.27,21.15 220.93,21.11 221.6,21.06 C222.27,21.01 222.93,20.97 223.6,20.92 C224.27,20.88 224.93,20.83 225.6,20.79 C226.27,20.75 226.93,20.7 227.6,20.66 C228.27,20.62 228.93,20.57 229.6,20.53 C230.27,20.49 230.93,20.45 231.6,20.41 C232.27,20.37 232.93,20.33 233.6,20.29 C234.27,20.25 234.93,20.21 235.6,20.17 C236.27,20.13 236.93,20.09 237.6,20.06 C238.27,20.02 238.93,19.98 239.6,19.94 C240.27,19.91 240.93,19.87 241.6,19.84 C242.27,19.8 242.93,19.76 243.6,19.73 C244.27,19.69 244.93,19.66 245.6,19.63 C246.27,19.59 246.93,19.56 247.6,19.52 C248.27,19.49 248.93,19.46 249.6,19.43 C250.27,19.39 250.93,19.36 251.6,19.33 C252.27,19.3 252.93,19.27 253.6,19.24 C254.27,19.21 254.93,19.18 255.6,19.15 C256.27,19.12 256.93,19.09 257.6,19.06 C258.27,19.03 258.93,19 259.6,18.97 C260.27,18.94 260.93,18.91 261.6,18.88 C262.27,18.86 262.93,18.83 263.6,18.8 C264.27,18.77 264.93,18.75 265.6,18.72 C266.27,18.69 266.93,18.67 267.6,18.64 C268.27,18.62 268.93,18.59 269.6,18.57 C270.27,18.54 270.93,18.52 271.6,18.49 C272.27,18.47 272.93,18.44 273.6,18.42 C274.27,18.39 274.93,18.37 275.6,18.35 C276.27,18.32 276.93,18.3 277.6,18.28 C278.27,18.25 278.93,18.23 279.6,18.21 C280.27,18.19 280.93,18.16 281.6,18.14 C282.27,18.12 282.93,18.1 283.6,18.08 C284.27,18.05 284.93,18.03 285.6,18.01 C286.27,17.99 286.93,17.97 287.6,17.95 C288.27,17.93 288.93,17.91 289.6,17.89 C290.27,17.87 290.93,17.85 291.6,17.83 C292.27,17.81 292.93,17.79 293.6,17.77 C294.27,17.75 294.93,17.73 295.6,17.72 C296.27,17.7 296.93,17.68 297.6,17.66 C298.27,17.64 298.93,17.62 299.6,17.61 C300.27,17.59 300.93,17.57 301.6,17.55 C302.27,17.53 302.93,17.52 303.6,17.5 C304.27,17.48 304.93,17.47 305.6,17.45 C306.27,17.43 306.93,17.42 307.6,17.4 C308.27,17.38 308.93,17.37 309.6,17.35 C310.27,17.33 310.93,17.32 311.6,17.3 C312.27,17.29 313.03,17.27 313.6,17.26 C314.17,17.24 314.77,17.23 315,17.22" fill="none" stroke="#e040e0" stroke-width="0.9" stroke-linejoin="round" />
<path d="M51.6,49.64 C51.93,49.47 52.93,48.89 53.6,48.61 C54.27,48.32 54.93,48.12 55.6,47.92 C56.27,47.71 56.93,47.54 57.6,47.37 C58.27,47.2 58.93,47.04 59.6,46.87 C60.27,46.71 60.93,46.55 61.6,46.39 C62.27,46.22 62.93,46.06 63.6,45.89 C64.27,45.73 64.93,45.56 65.6,45.39 C66.27,45.21 66.93,45.04 67.6,44.86 C68.27,44.69 68.93,44.51 69.6,44.33 C70.27,44.15 70.93,43.97 71.6,43.79 C72.27,43.6 72.93,43.42 73.6,43.24 C74.27,43.05 74.93,42.86 75.6,42.68 C76.27,42.49 76.93,42.31 77.6,42.12 C78.27,41.93 78.93,41.75 79.6,41.56 C80.27,41.37 80.93,41.19 81.6,41 C82.27,40.82 82.93,40.63 83.6,40.45 C84.27,40.26 84.93,40.08 85.6,39.9 C86.27,39.72 86.93,39.53 87.6,39.35 C88.27,39.17 88.93,38.99 89.6,38.82 C90.27,38.64 90.93,38.46 91.6,38.29 C92.27,38.11 92.93,37.94 93.6,37.76 C94.27,37.59 94.93,37.42 95.6,37.25 C96.27,37.08 96.93,36.91 97.6,36.74 C98.27,36.58 98.93,36.41 99.6,36.25 C100.27,36.08 100.93,35.92 101.6,35.76 C102.27,35.6 102.93,35.44 103.6,35.28 C104.27,35.13 104.93,34.97 105.6,34.82 C106.27,34.66 106.93,34.51 107.6,34.36 C108.27,34.21 108.93,34.06 109.6,33.91 C110.27,33.76 110.93,33.61 111.6,33.47 C112.27,33.32 112.93,33.18 113.6,33.04 C114.27,32.9 114.93,32.76 115.6,32.62 C116.27,32.48 116.93,32.34 117.6,32.2 C118.27,32.07 118.93,31.93 119.6,31.8 C120.27,31.67 120.93,31.54 121.6,31.41 C122.27,31.28 122.93,31.15 123.6,31.02 C124.27,30.89 124.93,30.77 125.6,30.64 C126.27,30.52 126.93,30.4 127.6,30.28 C128.27,30.15 128.93,30.03 129.6,29.92 C130.27,29.8 130.93,29.68 131.6,29.56 C132.27,29.45 132.93,29.33 133.6,29.22 C134.27,29.11 134.93,28.99 135.6,28.88 C136.27,28.77 136.93,28.66 137.6,28.56 C138.27,28.45 138.93,28.34 139.6,28.23 C140.27,28.13 140.93,28.02 141.6,27.92 C142.27,27.82 142.93,27.71 143.6,27.61 C144.27,27.51 144.93,27.41 145.6,27.31 C146.27,27.22 146.93,27.12 147.6,27.02 C148.27,26.92 148.93,26.83 149.6,26.73 C150.27,26.64 150.93,26.55 151.6,26.45 C152.27,26.36 152.93,26.27 153.6,26.18 C154.27,26.09 154.93,26 155.6,25.91 C156.27,25.83 156.93,25.74 157.6,25.65 C158.27,25.57 158.93,25.48 159.6,25.4 C160.27,25.31 160.93,25.23 161.6,25.15 C162.27,25.07 162.93,24.99 163.6,24.91 C164.27,24.82 164.93,24.75 165.6,24.67 C166.27,24.59 166.93,24.51 167.6,24.43 C168.27,24.36 168.93,24.28 169.6,24.21 C170.27,24.13 170.93,24.06 171.6,23.98 C172.27,23.91 172.93,23.84 173.6,23.77 C174.27,23.7 174.93,23.62 175.6,23.55 C176.27,23.48 176.93,23.42 177.6,23.35 C178.27,23.28 178.93,23.21 179.6,23.14 C180.27,23.08 180.93,23.01 181.6,22.95 C182.27,22.88 182.93,22.82 183.6,22.75 C184.27,22.69 184.93,22.62 185.6,22.56 C186.27,22.5 186.93,22.44 187.6,22.38 C188.27,22.32 188.93,22.26 189.6,22.2 C190.27,22.14 190.93,22.08 191.6,22.02 C192.27,21.96 192.93,21.9 193.6,21.85 C194.27,21.79 194.93,21.73 195.6,21.68 C196.27,21.62 196.93,21.57 197.6,21.51 C198.27,21.46 198.93,21.4 199.6,21.35 C200.27,21.3 200.93,21.24 201.6,21.19 C202.27,21.14 202.93,21.09 203.6,21.04 C204.27,20.99 204.93,20.94 205.6,20.89 C206.27,20.84 206.93,20.79 207.6,20.74 C208.27,20.69 208.93,20.64 209.6,20.59 C210.27,20.55 210.93,20.5 211.6,20.45 C212.27,20.41 212.93,20.36 213.6,20.31 C214.27,20.27 214.93,20.22 215.6,20.18 C216.27,20.14 216.93,20.09 217.6,20.05 C218.27,20 218.93,19.96 219.6,19.92 C220.27,19.88 220.93,19.83 221.6,19.79 C222.27,19.75 222.93,19.71 223.6,19.67 C224.27,19.63 224.93,19.59 225.6,19.55 C226.27,19.51 226.93,19.47 227.6,19.43 C228.27,19.39 228.93,19.36 229.6,19.32 C230.27,19.28 230.93,19.24 231.6,19.21 C232.27,19.17 232.93,19.13 233.6,19.1 C234.27,19.06 234.93,19.02 235.6,18.99 C236.27,18.95 236.93,18.92 237.6,18.88 C238.27,18.85 238.93,18.81 239.6,18.78 C240.27,18.75 240.93,18.71 241.6,18.68 C242.27,18.65 242.93,18.61 243.6,18.58 C244.27,18.55 244.93,18.52 245.6,18.49 C246.27,18.46 246.93,18.42 247.6,18.39 C248.27,18.36 248.93,18.33 249.6,18.3 C250.27,18.27 250.93,18.24 251.6,18.21 C252.27,18.18 252.93,18.15 253.6,18.13 C254.27,18.1 254.93,18.07 255.6,18.04 C256.27,18.01 256.93,17.98 257.6,17.96 C258.27,17.93 258.93,17.9 259.6,17.88 C260.27,17.85 260.93,17.82 261.6,17.8 C262.27,17.77 262.93,17.75 263.6,17.72 C264.27,17.69 264.93,17.67 265.6,17.64 C266.27,17.62 266.93,17.59 267.6,17.57 C268.27,17.55 268.93,17.52 269.6,17.5 C270.27,17.47 270.93,17.45 271.6,17.43 C272.27,17.4 272.93,17.38 273.6,17.36 C274.27,17.34 274.93,17.31 275.6,17.29 C276.27,17.27 276.93,17.25 277.6,17.23 C278.27,17.2 278.93,17.18 279.6,17.16 C280.27,17.14 280.93,17.12 281.6,17.1 C282.27,17.08 282.93,17.06 283.6,17.04 C284.27,17.02 284.93,17 285.6,16.98 C286.27,16.96 286.93,16.94 287.6,16.92 C288.27,16.9 288.93,16.88 289.6,16.86 C290.27,16.85 290.93,16.83 291.6,16.81 C292.27,16.79 292.93,16.77 293.6,16.76 C294.27,16.74 294.93,16.72 295.6,16.7 C296.27,16.69 296.93,16.67 297.6,16.65 C298.27,16.63 298.93,16.62 299.6,16.6 C300.27,16.59 300.93,16.57 301.6,16.55 C302.27,16.54 302.93,16.52 303.6,16.51 C304.27,16.49 304.93,16.47 305.6,16.46 C306.27,16.44 306.93,16.43 307.6,16.41 C308.27,16.4 308.93,16.39 309.6,16.37 C310.27,16.36 310.93,16.34 311.6,16.33 C312.27,16.31 313.03,16.3 313.6,16.29 C314.17,16.27 314.77,16.26 315,16.26" fill="none" stroke="#8a3a8a" stroke-width="0.9" stroke-linejoin="round" />
<path d="M51.6,46.24 C51.93,46.04 52.93,45.36 53.6,45.04 C54.27,44.72 54.93,44.54 55.6,44.34 C56.27,44.15 56.93,44.01 57.6,43.86 C58.27,43.71 58.93,43.58 59.6,43.45 C60.27,43.31 60.93,43.19 61.6,43.05 C62.27,42.92 62.93,42.79 63.6,42.65 C64.27,42.52 64.93,42.38 65.6,42.23 C66.27,42.09 66.93,41.94 67.6,41.79 C68.27,41.64 68.93,41.48 69.6,41.33 C70.27,41.17 70.93,41.01 71.6,40.84 C72.27,40.68 72.93,40.52 73.6,40.35 C74.27,40.18 74.93,40.01 75.6,39.84 C76.27,39.67 76.93,39.5 77.6,39.33 C78.27,39.16 78.93,38.98 79.6,38.81 C80.27,38.64 80.93,38.46 81.6,38.29 C82.27,38.12 82.93,37.94 83.6,37.77 C84.27,37.6 84.93,37.42 85.6,37.25 C86.27,37.08 86.93,36.91 87.6,36.74 C88.27,36.57 88.93,36.4 89.6,36.23 C90.27,36.06 90.93,35.89 91.6,35.72 C92.27,35.56 92.93,35.39 93.6,35.23 C94.27,35.06 94.93,34.9 95.6,34.74 C96.27,34.58 96.93,34.42 97.6,34.26 C98.27,34.1 98.93,33.94 99.6,33.78 C100.27,33.63 100.93,33.47 101.6,33.32 C102.27,33.17 102.93,33.02 103.6,32.87 C104.27,32.72 104.93,32.57 105.6,32.42 C106.27,32.27 106.93,32.13 107.6,31.98 C108.27,31.84 108.93,31.7 109.6,31.56 C110.27,31.42 110.93,31.28 111.6,31.14 C112.27,31 112.93,30.87 113.6,30.73 C114.27,30.6 114.93,30.46 115.6,30.33 C116.27,30.2 116.93,30.07 117.6,29.94 C118.27,29.82 118.93,29.69 119.6,29.56 C120.27,29.44 120.93,29.31 121.6,29.19 C122.27,29.07 122.93,28.95 123.6,28.83 C124.27,28.71 124.93,28.59 125.6,28.48 C126.27,28.36 126.93,28.24 127.6,28.13 C128.27,28.02 128.93,27.9 129.6,27.79 C130.27,27.68 130.93,27.57 131.6,27.46 C132.27,27.36 132.93,27.25 133.6,27.14 C134.27,27.04 134.93,26.93 135.6,26.83 C136.27,26.73 136.93,26.63 137.6,26.53 C138.27,26.43 138.93,26.33 139.6,26.23 C140.27,26.13 140.93,26.03 141.6,25.94 C142.27,25.84 142.93,25.75 143.6,25.66 C144.27,25.56 144.93,25.47 145.6,25.38 C146.27,25.29 146.93,25.2 147.6,25.11 C148.27,25.02 148.93,24.93 149.6,24.85 C150.27,24.76 150.93,24.68 151.6,24.59 C152.27,24.51 152.93,24.42 153.6,24.34 C154.27,24.26 154.93,24.18 155.6,24.1 C156.27,24.02 156.93,23.94 157.6,23.86 C158.27,23.78 158.93,23.7 159.6,23.63 C160.27,23.55 160.93,23.48 161.6,23.4 C162.27,23.33 162.93,23.25 163.6,23.18 C164.27,23.11 164.93,23.04 165.6,22.97 C166.27,22.89 166.93,22.82 167.6,22.76 C168.27,22.69 168.93,22.62 169.6,22.55 C170.27,22.48 170.93,22.42 171.6,22.35 C172.27,22.28 172.93,22.22 173.6,22.16 C174.27,22.09 174.93,22.03 175.6,21.97 C176.27,21.9 176.93,21.84 177.6,21.78 C178.27,21.72 178.93,21.66 179.6,21.6 C180.27,21.54 180.93,21.48 181.6,21.42 C182.27,21.36 182.93,21.3 183.6,21.25 C184.27,21.19 184.93,21.13 185.6,21.08 C186.27,21.02 186.93,20.97 187.6,20.91 C188.27,20.86 188.93,20.81 189.6,20.75 C190.27,20.7 190.93,20.65 191.6,20.6 C192.27,20.55 192.93,20.49 193.6,20.44 C194.27,20.39 194.93,20.34 195.6,20.29 C196.27,20.24 196.93,20.2 197.6,20.15 C198.27,20.1 198.93,20.05 199.6,20 C200.27,19.96 200.93,19.91 201.6,19.87 C202.27,19.82 202.93,19.77 203.6,19.73 C204.27,19.68 204.93,19.64 205.6,19.6 C206.27,19.55 206.93,19.51 207.6,19.47 C208.27,19.42 208.93,19.38 209.6,19.34 C210.27,19.3 210.93,19.26 211.6,19.21 C212.27,19.17 212.93,19.13 213.6,19.09 C214.27,19.05 214.93,19.01 215.6,18.97 C216.27,18.94 216.93,18.9 217.6,18.86 C218.27,18.82 218.93,18.78 219.6,18.74 C220.27,18.71 220.93,18.67 221.6,18.63 C222.27,18.6 222.93,18.56 223.6,18.53 C224.27,18.49 224.93,18.45 225.6,18.42 C226.27,18.38 226.93,18.35 227.6,18.32 C228.27,18.28 228.93,18.25 229.6,18.21 C230.27,18.18 230.93,18.15 231.6,18.12 C232.27,18.08 232.93,18.05 233.6,18.02 C234.27,17.99 234.93,17.95 235.6,17.92 C236.27,17.89 236.93,17.86 237.6,17.83 C238.27,17.8 238.93,17.77 239.6,17.74 C240.27,17.71 240.93,17.68 241.6,17.65 C242.27,17.62 242.93,17.59 243.6,17.56 C244.27,17.53 244.93,17.51 245.6,17.48 C246.27,17.45 246.93,17.42 247.6,17.39 C248.27,17.37 248.93,17.34 249.6,17.31 C250.27,17.29 250.93,17.26 251.6,17.23 C252.27,17.21 252.93,17.18 253.6,17.15 C254.27,17.13 254.93,17.1 255.6,17.08 C256.27,17.05 256.93,17.03 257.6,17 C258.27,16.98 258.93,16.95 259.6,16.93 C260.27,16.9 260.93,16.88 261.6,16.86 C262.27,16.83 262.93,16.81 263.6,16.78 C264.27,16.76 264.93,16.74 265.6,16.71 C266.27,16.69 266.93,16.67 267.6,16.65 C268.27,16.62 268.93,16.6 269.6,16.58 C270.27,16.56 270.93,16.54 271.6,16.51 C272.27,16.49 272.93,16.47 273.6,16.45 C274.27,16.43 274.93,16.41 275.6,16.39 C276.27,16.37 276.93,16.35 277.6,16.32 C278.27,16.3 278.93,16.28 279.6,16.26 C280.27,16.24 280.93,16.22 281.6,16.2 C282.27,16.18 282.93,16.16 283.6,16.15 C284.27,16.13 284.93,16.11 285.6,16.09 C286.27,16.07 286.93,16.05 287.6,16.03 C288.27,16.01 288.93,15.99 289.6,15.98 C290.27,15.96 290.93,15.94 291.6,15.92 C292.27,15.9 292.93,15.89 293.6,15.87 C294.27,15.85 294.93,15.83 295.6,15.81 C296.27,15.8 296.93,15.78 297.6,15.76 C298.27,15.75 298.93,15.73 299.6,15.71 C300.27,15.7 300.93,15.68 301.6,15.66 C302.27,15.65 302.93,15.63 303.6,15.61 C304.27,15.6 304.93,15.58 305.6,15.56 C306.27,15.55 306.93,15.53 307.6,15.52 C308.27,15.5 308.93,15.48 309.6,15.47 C310.27,15.45 310.93,15.44 311.6,15.42 C312.27,15.41 313.03,15.39 313.6,15.38 C314.17,15.36 314.77,15.35 315,15.35" fill="none" stroke="#3c3c78" stroke-width="0.9" stroke-linejoin="round" />
<line x1="69.5" y1="41" x2="69.5" y2="178" stroke="#000" stroke-width="1.3" />
<path d="M66.3,176.5 L72.7,176.5 L69.5,183.6 Z" fill="#000"/>
<circle cx="69.4" cy="41.1" r="3.5" fill="#000"/>
<text transform="translate(76.3,102.8) scale(1.02,1)" font-size="10.8" fill="#1a1a1a" ><tspan font-style="italic">I</tspan><tspan font-size="7.5" dy="2.6">light</tspan><tspan dy="-2.6">/</tspan><tspan font-style="italic">I</tspan><tspan font-size="7.5" dy="2.6">Dark</tspan><tspan dy="-2.6"> = 4 × 10</tspan><tspan font-size="7.6" dy="-4.2">6</tspan></text>
<rect x="232.2" y="77.3" width="78.2" height="122.6" stroke="#9a9a9a" stroke-width="0.8" fill="#fff"/>
<line x1="235.4" y1="87.6" x2="262.4" y2="87.6" stroke="#c4c4c4" stroke-width="1.3" stroke-opacity="0.6"/>
<text transform="translate(267.2,90.9) scale(1.04,1)" font-size="9.3" fill="#1a1a1a" >Dark</text>
<line x1="235.4" y1="102.55" x2="262.4" y2="102.55" stroke="#222222" stroke-width="1.3" stroke-opacity="0.6"/>
<text transform="translate(267.2,105.85) scale(1.04,1)" font-size="9.3" fill="#1a1a1a" >5 nW</text>
<line x1="235.4" y1="117.5" x2="262.4" y2="117.5" stroke="#e0403a" stroke-width="1.3" stroke-opacity="0.6"/>
<text transform="translate(267.2,120.8) scale(1.04,1)" font-size="9.3" fill="#1a1a1a" >10 nW</text>
<line x1="235.4" y1="132.45" x2="262.4" y2="132.45" stroke="#3434d8" stroke-width="1.3" stroke-opacity="0.6"/>
<text transform="translate(267.2,135.75) scale(1.04,1)" font-size="9.3" fill="#1a1a1a" >30 nW</text>
<line x1="235.4" y1="147.4" x2="262.4" y2="147.4" stroke="#2e9a96" stroke-width="1.3" stroke-opacity="0.6"/>
<text transform="translate(267.2,150.7) scale(1.04,1)" font-size="9.3" fill="#1a1a1a" >90 nW</text>
<line x1="235.4" y1="162.35" x2="262.4" y2="162.35" stroke="#e040e0" stroke-width="1.3" stroke-opacity="0.6"/>
<text transform="translate(267.2,165.65) scale(1.04,1)" font-size="9.3" fill="#1a1a1a" >500 nW</text>
<line x1="235.4" y1="177.3" x2="262.4" y2="177.3" stroke="#8a3a8a" stroke-width="1.3" stroke-opacity="0.6"/>
<text transform="translate(267.2,180.6) scale(1.04,1)" font-size="9.3" fill="#1a1a1a" >1.5 μW</text>
<line x1="235.4" y1="192.25" x2="262.4" y2="192.25" stroke="#3c3c78" stroke-width="1.3" stroke-opacity="0.6"/>
<text transform="translate(267.2,195.55) scale(1.04,1)" font-size="9.3" fill="#1a1a1a" >5.0 μW</text>
<rect x="51.4" y="10.4" width="264" height="194" stroke="#474747" stroke-width="1" fill="none"/>
<line x1="51.3" y1="204.4" x2="51.3" y2="206.9" stroke="#474747" stroke-width="1" />
<line x1="80.68" y1="204.4" x2="80.68" y2="208.4" stroke="#474747" stroke-width="1" />
<text transform="translate(80.08,221) scale(1.07,1)" font-size="10.3" text-anchor="middle" fill="#1a1a1a" >−20</text>
<line x1="110.06" y1="204.4" x2="110.06" y2="206.9" stroke="#474747" stroke-width="1" />
<line x1="139.44" y1="204.4" x2="139.44" y2="208.4" stroke="#474747" stroke-width="1" />
<text transform="translate(139.64,221) scale(1.07,1)" font-size="10.3" text-anchor="middle" fill="#1a1a1a" >0</text>
<line x1="168.82" y1="204.4" x2="168.82" y2="206.9" stroke="#474747" stroke-width="1" />
<line x1="198.2" y1="204.4" x2="198.2" y2="208.4" stroke="#474747" stroke-width="1" />
<text transform="translate(198.4,221) scale(1.07,1)" font-size="10.3" text-anchor="middle" fill="#1a1a1a" >20</text>
<line x1="227.58" y1="204.4" x2="227.58" y2="206.9" stroke="#474747" stroke-width="1" />
<line x1="256.96" y1="204.4" x2="256.96" y2="208.4" stroke="#474747" stroke-width="1" />
<text transform="translate(257.16,221) scale(1.07,1)" font-size="10.3" text-anchor="middle" fill="#1a1a1a" >40</text>
<line x1="286.34" y1="204.4" x2="286.34" y2="206.9" stroke="#474747" stroke-width="1" />
<line x1="315.72" y1="204.4" x2="315.72" y2="208.4" stroke="#474747" stroke-width="1" />
<text transform="translate(315.92,221) scale(1.07,1)" font-size="10.3" text-anchor="middle" fill="#1a1a1a" >60</text>
<line x1="46.9" y1="204.3" x2="51.4" y2="204.3" stroke="#474747" stroke-width="1" />
<text transform="translate(42.6,208) scale(1.07,1)" font-size="10.3" text-anchor="end" fill="#1a1a1a" >1E-12</text>
<line x1="49.6" y1="197.83" x2="51.4" y2="197.83" stroke="#474747" stroke-width="0.8" />
<line x1="49.6" y1="194.04" x2="51.4" y2="194.04" stroke="#474747" stroke-width="0.8" />
<line x1="49.6" y1="191.36" x2="51.4" y2="191.36" stroke="#474747" stroke-width="0.8" />
<line x1="49.6" y1="189.27" x2="51.4" y2="189.27" stroke="#474747" stroke-width="0.8" />
<line x1="49.6" y1="187.57" x2="51.4" y2="187.57" stroke="#474747" stroke-width="0.8" />
<line x1="49.6" y1="186.13" x2="51.4" y2="186.13" stroke="#474747" stroke-width="0.8" />
<line x1="49.6" y1="184.88" x2="51.4" y2="184.88" stroke="#474747" stroke-width="0.8" />
<line x1="49.6" y1="183.78" x2="51.4" y2="183.78" stroke="#474747" stroke-width="0.8" />
<line x1="48.4" y1="182.8" x2="51.4" y2="182.8" stroke="#474747" stroke-width="1" />
<line x1="49.6" y1="176.33" x2="51.4" y2="176.33" stroke="#474747" stroke-width="0.8" />
<line x1="49.6" y1="172.54" x2="51.4" y2="172.54" stroke="#474747" stroke-width="0.8" />
<line x1="49.6" y1="169.86" x2="51.4" y2="169.86" stroke="#474747" stroke-width="0.8" />
<line x1="49.6" y1="167.77" x2="51.4" y2="167.77" stroke="#474747" stroke-width="0.8" />
<line x1="49.6" y1="166.07" x2="51.4" y2="166.07" stroke="#474747" stroke-width="0.8" />
<line x1="49.6" y1="164.63" x2="51.4" y2="164.63" stroke="#474747" stroke-width="0.8" />
<line x1="49.6" y1="163.38" x2="51.4" y2="163.38" stroke="#474747" stroke-width="0.8" />
<line x1="49.6" y1="162.28" x2="51.4" y2="162.28" stroke="#474747" stroke-width="0.8" />
<line x1="46.9" y1="161.3" x2="51.4" y2="161.3" stroke="#474747" stroke-width="1" />
<text transform="translate(42.6,165) scale(1.07,1)" font-size="10.3" text-anchor="end" fill="#1a1a1a" >1E-10</text>
<line x1="49.6" y1="154.83" x2="51.4" y2="154.83" stroke="#474747" stroke-width="0.8" />
<line x1="49.6" y1="151.04" x2="51.4" y2="151.04" stroke="#474747" stroke-width="0.8" />
<line x1="49.6" y1="148.36" x2="51.4" y2="148.36" stroke="#474747" stroke-width="0.8" />
<line x1="49.6" y1="146.27" x2="51.4" y2="146.27" stroke="#474747" stroke-width="0.8" />
<line x1="49.6" y1="144.57" x2="51.4" y2="144.57" stroke="#474747" stroke-width="0.8" />
<line x1="49.6" y1="143.13" x2="51.4" y2="143.13" stroke="#474747" stroke-width="0.8" />
<line x1="49.6" y1="141.88" x2="51.4" y2="141.88" stroke="#474747" stroke-width="0.8" />
<line x1="49.6" y1="140.78" x2="51.4" y2="140.78" stroke="#474747" stroke-width="0.8" />
<line x1="48.4" y1="139.8" x2="51.4" y2="139.8" stroke="#474747" stroke-width="1" />
<line x1="49.6" y1="133.33" x2="51.4" y2="133.33" stroke="#474747" stroke-width="0.8" />
<line x1="49.6" y1="129.54" x2="51.4" y2="129.54" stroke="#474747" stroke-width="0.8" />
<line x1="49.6" y1="126.86" x2="51.4" y2="126.86" stroke="#474747" stroke-width="0.8" />
<line x1="49.6" y1="124.77" x2="51.4" y2="124.77" stroke="#474747" stroke-width="0.8" />
<line x1="49.6" y1="123.07" x2="51.4" y2="123.07" stroke="#474747" stroke-width="0.8" />
<line x1="49.6" y1="121.63" x2="51.4" y2="121.63" stroke="#474747" stroke-width="0.8" />
<line x1="49.6" y1="120.38" x2="51.4" y2="120.38" stroke="#474747" stroke-width="0.8" />
<line x1="49.6" y1="119.28" x2="51.4" y2="119.28" stroke="#474747" stroke-width="0.8" />
<line x1="46.9" y1="118.3" x2="51.4" y2="118.3" stroke="#474747" stroke-width="1" />
<text transform="translate(42.6,122) scale(1.07,1)" font-size="10.3" text-anchor="end" fill="#1a1a1a" >1E-8</text>
<line x1="49.6" y1="111.83" x2="51.4" y2="111.83" stroke="#474747" stroke-width="0.8" />
<line x1="49.6" y1="108.04" x2="51.4" y2="108.04" stroke="#474747" stroke-width="0.8" />
<line x1="49.6" y1="105.36" x2="51.4" y2="105.36" stroke="#474747" stroke-width="0.8" />
<line x1="49.6" y1="103.27" x2="51.4" y2="103.27" stroke="#474747" stroke-width="0.8" />
<line x1="49.6" y1="101.57" x2="51.4" y2="101.57" stroke="#474747" stroke-width="0.8" />
<line x1="49.6" y1="100.13" x2="51.4" y2="100.13" stroke="#474747" stroke-width="0.8" />
<line x1="49.6" y1="98.88" x2="51.4" y2="98.88" stroke="#474747" stroke-width="0.8" />
<line x1="49.6" y1="97.78" x2="51.4" y2="97.78" stroke="#474747" stroke-width="0.8" />
<line x1="48.4" y1="96.8" x2="51.4" y2="96.8" stroke="#474747" stroke-width="1" />
<line x1="49.6" y1="90.33" x2="51.4" y2="90.33" stroke="#474747" stroke-width="0.8" />
<line x1="49.6" y1="86.54" x2="51.4" y2="86.54" stroke="#474747" stroke-width="0.8" />
<line x1="49.6" y1="83.86" x2="51.4" y2="83.86" stroke="#474747" stroke-width="0.8" />
<line x1="49.6" y1="81.77" x2="51.4" y2="81.77" stroke="#474747" stroke-width="0.8" />
<line x1="49.6" y1="80.07" x2="51.4" y2="80.07" stroke="#474747" stroke-width="0.8" />
<line x1="49.6" y1="78.63" x2="51.4" y2="78.63" stroke="#474747" stroke-width="0.8" />
<line x1="49.6" y1="77.38" x2="51.4" y2="77.38" stroke="#474747" stroke-width="0.8" />
<line x1="49.6" y1="76.28" x2="51.4" y2="76.28" stroke="#474747" stroke-width="0.8" />
<line x1="46.9" y1="75.3" x2="51.4" y2="75.3" stroke="#474747" stroke-width="1" />
<text transform="translate(42.6,79) scale(1.07,1)" font-size="10.3" text-anchor="end" fill="#1a1a1a" >1E-6</text>
<line x1="49.6" y1="68.83" x2="51.4" y2="68.83" stroke="#474747" stroke-width="0.8" />
<line x1="49.6" y1="65.04" x2="51.4" y2="65.04" stroke="#474747" stroke-width="0.8" />
<line x1="49.6" y1="62.36" x2="51.4" y2="62.36" stroke="#474747" stroke-width="0.8" />
<line x1="49.6" y1="60.27" x2="51.4" y2="60.27" stroke="#474747" stroke-width="0.8" />
<line x1="49.6" y1="58.57" x2="51.4" y2="58.57" stroke="#474747" stroke-width="0.8" />
<line x1="49.6" y1="57.13" x2="51.4" y2="57.13" stroke="#474747" stroke-width="0.8" />
<line x1="49.6" y1="55.88" x2="51.4" y2="55.88" stroke="#474747" stroke-width="0.8" />
<line x1="49.6" y1="54.78" x2="51.4" y2="54.78" stroke="#474747" stroke-width="0.8" />
<line x1="48.4" y1="53.8" x2="51.4" y2="53.8" stroke="#474747" stroke-width="1" />
<line x1="49.6" y1="47.33" x2="51.4" y2="47.33" stroke="#474747" stroke-width="0.8" />
<line x1="49.6" y1="43.54" x2="51.4" y2="43.54" stroke="#474747" stroke-width="0.8" />
<line x1="49.6" y1="40.86" x2="51.4" y2="40.86" stroke="#474747" stroke-width="0.8" />
<line x1="49.6" y1="38.77" x2="51.4" y2="38.77" stroke="#474747" stroke-width="0.8" />
<line x1="49.6" y1="37.07" x2="51.4" y2="37.07" stroke="#474747" stroke-width="0.8" />
<line x1="49.6" y1="35.63" x2="51.4" y2="35.63" stroke="#474747" stroke-width="0.8" />
<line x1="49.6" y1="34.38" x2="51.4" y2="34.38" stroke="#474747" stroke-width="0.8" />
<line x1="49.6" y1="33.28" x2="51.4" y2="33.28" stroke="#474747" stroke-width="0.8" />
<line x1="46.9" y1="32.3" x2="51.4" y2="32.3" stroke="#474747" stroke-width="1" />
<text transform="translate(42.6,36) scale(1.07,1)" font-size="10.3" text-anchor="end" fill="#1a1a1a" >1E-4</text>
<line x1="49.6" y1="25.83" x2="51.4" y2="25.83" stroke="#474747" stroke-width="0.8" />
<line x1="49.6" y1="22.04" x2="51.4" y2="22.04" stroke="#474747" stroke-width="0.8" />
<line x1="49.6" y1="19.36" x2="51.4" y2="19.36" stroke="#474747" stroke-width="0.8" />
<line x1="49.6" y1="17.27" x2="51.4" y2="17.27" stroke="#474747" stroke-width="0.8" />
<line x1="49.6" y1="15.57" x2="51.4" y2="15.57" stroke="#474747" stroke-width="0.8" />
<line x1="49.6" y1="14.13" x2="51.4" y2="14.13" stroke="#474747" stroke-width="0.8" />
<line x1="49.6" y1="12.88" x2="51.4" y2="12.88" stroke="#474747" stroke-width="0.8" />
<line x1="49.6" y1="11.78" x2="51.4" y2="11.78" stroke="#474747" stroke-width="0.8" />
<line x1="48.4" y1="10.8" x2="51.4" y2="10.8" stroke="#474747" stroke-width="1" />
<text transform="translate(10.2,107.5) rotate(-90) scale(1.07,1)" font-size="10.5" text-anchor="middle" fill="#1a1a1a" ><tspan font-style="italic">I</tspan><tspan font-size="7.3" dy="2.4">D</tspan><tspan dy="-2.4"> (A)</tspan></text>
<text transform="translate(183.5,237.3) scale(1.07,1)" font-size="10.6" text-anchor="middle" fill="#1a1a1a" ><tspan font-style="italic">V</tspan><tspan font-size="7.3" dy="2.6">G</tspan><tspan dy="-2.6"> (V)</tspan></text>
<text transform="translate(352.5,13.5) scale(1.0,1)" font-size="15.5" font-weight="bold" fill="#000" >b</text>
<polyline points="412.5,196.2 414,196.12 415.5,196.04 417,195.97 418.5,195.89 420,195.81 421.5,195.73 423,195.65 424.5,195.57 426,195.48 427.5,195.4 429,195.3 430.5,195.19 432,195.07 433.5,194.93 435,194.78 436.5,194.62 438,194.43 439.5,194.24 441,194.03 442.5,193.82 444,193.6 445.5,193.36 447,193.12 448.5,192.86 450,192.59 451.5,192.29 453,191.97 454.5,191.61 456,191.21 457.5,190.76 459,190.27 460.5,189.72 462,189.13 463.5,188.48 465,187.79 466.5,187.05 468,186.27 469.5,185.45 471,184.56 472.5,183.62 474,182.58 475.5,181.43 477,180.15 478.5,178.71 480,177.1 481.5,175.33 483,173.42 484.5,171.4 486,169.31 487.5,167.17 489,165.02 490.5,162.88 492,160.75 493.5,158.63 495,156.52 496.5,154.39 498,152.24 499.5,150.05 501,147.82 502.5,145.55 504,143.25 505.5,140.94 507,138.64 508.5,136.36 510,134.13 511.5,131.95 513,129.82 514.5,127.74 516,125.71 517.5,123.74 519,121.81 520.5,119.94 522,118.13 523.5,116.37 525,114.67 526.5,113.03 528,111.44 529.5,109.9 531,108.4 532.5,106.95 534,105.54 535.5,104.16 537,102.82 538.5,101.5 540,100.2 541.5,98.93 543,97.67 544.5,96.42 546,95.18 547.5,93.94 549,92.7 550.5,91.45 552,90.2 553.5,88.94 555,87.69 556.5,86.44 558,85.22 559.5,84 561,82.82 562.5,81.65 564,80.51 565.5,79.39 567,78.3 568.5,77.24 570,76.21 571.5,75.21 573,74.24 574.5,73.29 576,72.36 577.5,71.45 579,70.55 580.5,69.67 582,68.81 583.5,67.96 585,67.12 586.5,66.3 588,65.5 589.5,64.71 591,63.95 592.5,63.2 594,62.47 595.5,61.75 597,61.04 598.5,60.35 600,59.65 601.5,58.97 603,58.28 604.5,57.61 606,56.94 607.5,56.28 609,55.63 610.5,55 612,54.38 613.5,53.77 615,53.17 616.5,52.58 618,52 619.5,51.43 621,50.87 622.5,50.31 624,49.76 625.5,49.21 627,48.66 628.5,48.1 630,47.54 631.5,46.97 633,46.4 634.5,45.83 636,45.25 637.5,44.68 639,44.13 640.5,43.58 642,43.06 643.5,42.56 645,42.08 646.5,41.63 648,41.2 649.5,40.8 651,40.41 652.5,40.05 654,39.7 655.5,39.35 657,39.02 658.5,38.7 660,38.38 661.5,38.06 663,37.75 664.5,37.45 666,37.15 667.5,36.86 669,36.58 670.5,36.3 672,36.02 673.5,35.74 675,35.47 675.5,35.37" fill="none" stroke="#333333" stroke-width="0.9" stroke-linejoin="round"/>
<polyline points="412.5,196.2 414,196.11 415.5,196.01 417,195.92 418.5,195.83 420,195.74 421.5,195.64 423,195.55 424.5,195.46 426,195.37 427.5,195.27 429,195.18 430.5,195.08 432,194.98 433.5,194.88 435,194.77 436.5,194.64 438,194.51 439.5,194.35 441,194.18 442.5,193.99 444,193.78 445.5,193.55 447,193.31 448.5,193.04 450,192.76 451.5,192.44 453,192.09 454.5,191.7 456,191.26 457.5,190.77 459,190.24 460.5,189.67 462,189.07 463.5,188.44 465,187.78 466.5,187.09 468,186.37 469.5,185.62 471,184.83 472.5,183.99 474,183.09 475.5,182.12 477,181.08 478.5,179.98 480,178.81 481.5,177.59 483,176.34 484.5,175.05 486,173.74 487.5,172.41 489,171.06 490.5,169.7 492,168.31 493.5,166.9 495,165.46 496.5,163.99 498,162.5 499.5,160.97 501,159.42 502.5,157.84 504,156.26 505.5,154.67 507,153.07 508.5,151.46 510,149.85 511.5,148.23 513,146.59 514.5,144.95 516,143.29 517.5,141.64 519,139.99 520.5,138.35 522,136.72 523.5,135.13 525,133.56 526.5,132.04 528,130.55 529.5,129.11 531,127.73 532.5,126.39 534,125.1 535.5,123.85 537,122.65 538.5,121.49 540,120.37 541.5,119.29 543,118.24 544.5,117.23 546,116.25 547.5,115.29 549,114.35 550.5,113.43 552,112.53 553.5,111.64 555,110.76 556.5,109.89 558,109.03 559.5,108.17 561,107.32 562.5,106.47 564,105.62 565.5,104.78 567,103.93 568.5,103.09 570,102.25 571.5,101.41 573,100.58 574.5,99.76 576,98.95 577.5,98.16 579,97.38 580.5,96.63 582,95.89 583.5,95.18 585,94.49 586.5,93.81 588,93.15 589.5,92.5 591,91.86 592.5,91.23 594,90.61 595.5,90 597,89.4 598.5,88.8 600,88.2 601.5,87.6 603,87.01 604.5,86.42 606,85.84 607.5,85.27 609,84.7 610.5,84.15 612,83.6 613.5,83.07 615,82.54 616.5,82.03 618,81.52 619.5,81.03 621,80.54 622.5,80.07 624,79.6 625.5,79.14 627,78.68 628.5,78.23 630,77.78 631.5,77.33 633,76.89 634.5,76.45 636,76.02 637.5,75.6 639,75.18 640.5,74.78 642,74.38 643.5,73.99 645,73.61 646.5,73.24 648,72.86 649.5,72.49 651,72.12 652.5,71.75 654,71.37 655.5,71 657,70.63 658.5,70.26 660,69.9 661.5,69.54 663,69.19 664.5,68.85 666,68.51 667.5,68.18 669,67.85 670.5,67.53 672,67.22 673.5,66.9 675,66.59 675.5,66.48" fill="none" stroke="#e64a52" stroke-width="0.9" stroke-linejoin="round"/>
<polyline points="412.5,196.2 414,196.11 415.5,196.01 417,195.92 418.5,195.83 420,195.74 421.5,195.64 423,195.55 424.5,195.46 426,195.37 427.5,195.27 429,195.18 430.5,195.08 432,194.99 433.5,194.89 435,194.78 436.5,194.65 438,194.51 439.5,194.35 441,194.17 442.5,193.96 444,193.74 445.5,193.49 447,193.24 448.5,192.97 450,192.7 451.5,192.41 453,192.1 454.5,191.78 456,191.44 457.5,191.07 459,190.69 460.5,190.29 462,189.88 463.5,189.46 465,189.03 466.5,188.58 468,188.13 469.5,187.67 471,187.19 472.5,186.7 474,186.19 475.5,185.66 477,185.1 478.5,184.52 480,183.92 481.5,183.29 483,182.66 484.5,182.01 486,181.35 487.5,180.69 489,180.03 490.5,179.36 492,178.68 493.5,178 495,177.3 496.5,176.6 498,175.88 499.5,175.16 501,174.42 502.5,173.67 504,172.91 505.5,172.13 507,171.34 508.5,170.52 510,169.68 511.5,168.81 513,167.91 514.5,166.99 516,166.04 517.5,165.08 519,164.12 520.5,163.15 522,162.19 523.5,161.25 525,160.33 526.5,159.44 528,158.57 529.5,157.74 531,156.94 532.5,156.16 534,155.42 535.5,154.69 537,153.99 538.5,153.29 540,152.61 541.5,151.92 543,151.24 544.5,150.55 546,149.87 547.5,149.2 549,148.53 550.5,147.87 552,147.23 553.5,146.6 555,145.98 556.5,145.39 558,144.82 559.5,144.28 561,143.78 562.5,143.3 564,142.85 565.5,142.44 567,142.04 568.5,141.67 570,141.31 571.5,140.96 573,140.64 574.5,140.32 576,140.01 577.5,139.7 579,139.41 580.5,139.12 582,138.83 583.5,138.56 585,138.28 586.5,138.01 588,137.75 589.5,137.48 591,137.22 592.5,136.97 594,136.71 595.5,136.46 597,136.21 598.5,135.96 600,135.7 601.5,135.45 603,135.19 604.5,134.94 606,134.68 607.5,134.42 609,134.17 610.5,133.91 612,133.66 613.5,133.42 615,133.17 616.5,132.94 618,132.7 619.5,132.47 621,132.24 622.5,132.02 624,131.81 625.5,131.6 627,131.39 628.5,131.18 630,130.98 631.5,130.78 633,130.58 634.5,130.39 636,130.19 637.5,130 639,129.8 640.5,129.6 642,129.4 643.5,129.2 645,128.99 646.5,128.79 648,128.58 649.5,128.38 651,128.18 652.5,127.99 654,127.8 655.5,127.62 657,127.44 658.5,127.27 660,127.1 661.5,126.93 663,126.76 664.5,126.59 666,126.42 667.5,126.25 669,126.08 670.5,125.91 672,125.74 673.5,125.57 675,125.4 675.5,125.35" fill="none" stroke="#3a3ad6" stroke-width="0.9" stroke-linejoin="round"/>
<polyline points="412.5,196.2 414,196.12 415.5,196.05 417,195.97 418.5,195.89 420,195.82 421.5,195.74 423,195.67 424.5,195.59 426,195.51 427.5,195.44 429,195.36 430.5,195.28 432,195.2 433.5,195.12 435,195.04 436.5,194.95 438,194.86 439.5,194.75 441,194.64 442.5,194.51 444,194.38 445.5,194.24 447,194.1 448.5,193.95 450,193.79 451.5,193.63 453,193.46 454.5,193.27 456,193.07 457.5,192.86 459,192.63 460.5,192.4 462,192.16 463.5,191.91 465,191.67 466.5,191.42 468,191.17 469.5,190.91 471,190.66 472.5,190.4 474,190.14 475.5,189.87 477,189.59 478.5,189.31 480,189.02 481.5,188.72 483,188.42 484.5,188.12 486,187.82 487.5,187.52 489,187.23 490.5,186.93 492,186.63 493.5,186.33 495,186.03 496.5,185.72 498,185.39 499.5,185.06 501,184.72 502.5,184.37 504,184.01 505.5,183.65 507,183.28 508.5,182.91 510,182.53 511.5,182.15 513,181.77 514.5,181.39 516,181 517.5,180.6 519,180.19 520.5,179.78 522,179.36 523.5,178.92 525,178.49 526.5,178.04 528,177.6 529.5,177.15 531,176.7 532.5,176.25 534,175.8 535.5,175.36 537,174.93 538.5,174.51 540,174.12 541.5,173.74 543,173.4 544.5,173.07 546,172.77 547.5,172.48 549,172.21 550.5,171.95 552,171.69 553.5,171.45 555,171.21 556.5,170.98 558,170.76 559.5,170.55 561,170.36 562.5,170.19 564,170.03 565.5,169.88 567,169.74 568.5,169.6 570,169.47 571.5,169.34 573,169.21 574.5,169.08 576,168.96 577.5,168.83 579,168.71 580.5,168.6 582,168.49 583.5,168.38 585,168.28 586.5,168.18 588,168.08 589.5,167.98 591,167.88 592.5,167.78 594,167.68 595.5,167.58 597,167.47 598.5,167.37 600,167.26 601.5,167.15 603,167.03 604.5,166.91 606,166.79 607.5,166.67 609,166.54 610.5,166.41 612,166.29 613.5,166.16 615,166.03 616.5,165.91 618,165.79 619.5,165.68 621,165.57 622.5,165.46 624,165.36 625.5,165.26 627,165.16 628.5,165.06 630,164.97 631.5,164.87 633,164.78 634.5,164.69 636,164.59 637.5,164.5 639,164.4 640.5,164.31 642,164.21 643.5,164.12 645,164.03 646.5,163.93 648,163.84 649.5,163.75 651,163.66 652.5,163.56 654,163.47 655.5,163.38 657,163.28 658.5,163.19 660,163.1 661.5,163 663,162.91 664.5,162.82 666,162.72 667.5,162.63 669,162.53 670.5,162.44 672,162.35 673.5,162.25 675,162.16 675.5,162.13" fill="none" stroke="#36a59d" stroke-width="0.9" stroke-linejoin="round"/>
<polyline points="412.5,196.2 414,196.17 415.5,196.14 417,196.12 418.5,196.09 420,196.06 421.5,196.03 423,196 424.5,195.98 426,195.95 427.5,195.92 429,195.89 430.5,195.86 432,195.84 433.5,195.81 435,195.78 436.5,195.75 438,195.72 439.5,195.7 441,195.67 442.5,195.64 444,195.61 445.5,195.58 447,195.55 448.5,195.51 450,195.47 451.5,195.43 453,195.37 454.5,195.31 456,195.25 457.5,195.19 459,195.13 460.5,195.07 462,195.01 463.5,194.95 465,194.88 466.5,194.82 468,194.76 469.5,194.7 471,194.64 472.5,194.57 474,194.5 475.5,194.42 477,194.33 478.5,194.23 480,194.11 481.5,193.98 483,193.85 484.5,193.72 486,193.59 487.5,193.46 489,193.33 490.5,193.19 492,193.06 493.5,192.93 495,192.8 496.5,192.67 498,192.54 499.5,192.42 501,192.3 502.5,192.18 504,192.06 505.5,191.94 507,191.82 508.5,191.71 510,191.59 511.5,191.47 513,191.35 514.5,191.23 516,191.12 517.5,191 519,190.9 520.5,190.8 522,190.7 523.5,190.61 525,190.53 526.5,190.44 528,190.36 529.5,190.28 531,190.2 532.5,190.11 534,190.03 535.5,189.95 537,189.87 538.5,189.8 540,189.74 541.5,189.68 543,189.63 544.5,189.59 546,189.55 547.5,189.51 549,189.47 550.5,189.44 552,189.4 553.5,189.36 555,189.33 556.5,189.29 558,189.25 559.5,189.22 561,189.19 562.5,189.16 564,189.13 565.5,189.1 567,189.08 568.5,189.05 570,189.03 571.5,189 573,188.97 574.5,188.95 576,188.92 577.5,188.89 579,188.87 580.5,188.84 582,188.81 583.5,188.79 585,188.76 586.5,188.74 588,188.71 589.5,188.68 591,188.66 592.5,188.63 594,188.61 595.5,188.58 597,188.55 598.5,188.53 600,188.5 601.5,188.47 603,188.45 604.5,188.42 606,188.4 607.5,188.37 609,188.34 610.5,188.32 612,188.29 613.5,188.26 615,188.24 616.5,188.21 618,188.19 619.5,188.16 621,188.13 622.5,188.11 624,188.08 625.5,188.05 627,188.03 628.5,188 630,187.98 631.5,187.95 633,187.92 634.5,187.9 636,187.87 637.5,187.84 639,187.82 640.5,187.8 642,187.77 643.5,187.75 645,187.73 646.5,187.71 648,187.69 649.5,187.67 651,187.65 652.5,187.63 654,187.61 655.5,187.58 657,187.56 658.5,187.54 660,187.52 661.5,187.5 663,187.48 664.5,187.46 666,187.44 667.5,187.42 669,187.4 670.5,187.38 672,187.35 673.5,187.33 675,187.31 675.5,187.31" fill="none" stroke="#e64de6" stroke-width="0.9" stroke-linejoin="round"/>
<polyline points="412.5,196.2 414,196.18 415.5,196.15 417,196.13 418.5,196.1 420,196.08 421.5,196.06 423,196.03 424.5,196.01 426,195.98 427.5,195.96 429,195.94 430.5,195.91 432,195.89 433.5,195.86 435,195.84 436.5,195.82 438,195.79 439.5,195.77 441,195.74 442.5,195.72 444,195.7 445.5,195.67 447,195.65 448.5,195.62 450,195.59 451.5,195.55 453,195.51 454.5,195.48 456,195.43 457.5,195.39 459,195.35 460.5,195.31 462,195.27 463.5,195.23 465,195.19 466.5,195.15 468,195.11 469.5,195.06 471,195.02 472.5,194.98 474,194.94 475.5,194.9 477,194.86 478.5,194.82 480,194.78 481.5,194.73 483,194.69 484.5,194.65 486,194.61 487.5,194.57 489,194.53 490.5,194.49 492,194.46 493.5,194.42 495,194.39 496.5,194.36 498,194.32 499.5,194.29 501,194.26 502.5,194.23 504,194.19 505.5,194.16 507,194.13 508.5,194.09 510,194.06 511.5,194.03 513,193.99 514.5,193.96 516,193.93 517.5,193.9 519,193.86 520.5,193.83 522,193.8 523.5,193.76 525,193.73 526.5,193.7 528,193.66 529.5,193.63 531,193.6 532.5,193.57 534,193.53 535.5,193.5 537,193.47 538.5,193.44 540,193.41 541.5,193.39 543,193.37 544.5,193.36 546,193.34 547.5,193.33 549,193.31 550.5,193.3 552,193.28 553.5,193.27 555,193.25 556.5,193.24 558,193.22 559.5,193.21 561,193.19 562.5,193.18 564,193.16 565.5,193.15 567,193.13 568.5,193.12 570,193.1 571.5,193.09 573,193.07 574.5,193.06 576,193.04 577.5,193.03 579,193.01 580.5,192.99 582,192.98 583.5,192.97 585,192.95 586.5,192.94 588,192.92 589.5,192.91 591,192.89 592.5,192.88 594,192.86 595.5,192.85 597,192.83 598.5,192.82 600,192.8 601.5,192.79 603,192.78 604.5,192.76 606,192.75 607.5,192.74 609,192.73 610.5,192.72 612,192.71 613.5,192.69 615,192.68 616.5,192.67 618,192.66 619.5,192.65 621,192.63 622.5,192.62 624,192.61 625.5,192.6 627,192.59 628.5,192.57 630,192.56 631.5,192.55 633,192.54 634.5,192.53 636,192.52 637.5,192.5 639,192.49 640.5,192.48 642,192.47 643.5,192.46 645,192.44 646.5,192.43 648,192.42 649.5,192.41 651,192.4 652.5,192.38 654,192.37 655.5,192.36 657,192.35 658.5,192.34 660,192.33 661.5,192.31 663,192.3 664.5,192.29 666,192.28 667.5,192.27 669,192.25 670.5,192.24 672,192.23 673.5,192.22 675,192.21 675.5,192.2" fill="none" stroke="#a85a68" stroke-width="0.9" stroke-linejoin="round"/>
<polyline points="412.5,196.2 414,196.18 415.5,196.16 417,196.14 418.5,196.12 420,196.11 421.5,196.09 423,196.07 424.5,196.05 426,196.03 427.5,196.01 429,195.99 430.5,195.97 432,195.95 433.5,195.93 435,195.92 436.5,195.9 438,195.88 439.5,195.86 441,195.84 442.5,195.82 444,195.8 445.5,195.78 447,195.76 448.5,195.75 450,195.73 451.5,195.71 453,195.69 454.5,195.67 456,195.65 457.5,195.63 459,195.61 460.5,195.6 462,195.58 463.5,195.57 465,195.55 466.5,195.54 468,195.52 469.5,195.51 471,195.49 472.5,195.48 474,195.46 475.5,195.45 477,195.43 478.5,195.42 480,195.4 481.5,195.39 483,195.37 484.5,195.36 486,195.34 487.5,195.33 489,195.31 490.5,195.3 492,195.28 493.5,195.27 495,195.25 496.5,195.24 498,195.22 499.5,195.21 501,195.19 502.5,195.18 504,195.16 505.5,195.15 507,195.13 508.5,195.12 510,195.1 511.5,195.09 513,195.07 514.5,195.06 516,195.04 517.5,195.03 519,195.01 520.5,195 522,194.99 523.5,194.98 525,194.98 526.5,194.97 528,194.96 529.5,194.95 531,194.95 532.5,194.94 534,194.93 535.5,194.92 537,194.92 538.5,194.91 540,194.9 541.5,194.89 543,194.89 544.5,194.88 546,194.87 547.5,194.86 549,194.86 550.5,194.85 552,194.84 553.5,194.83 555,194.83 556.5,194.82 558,194.81 559.5,194.8 561,194.8 562.5,194.79 564,194.78 565.5,194.77 567,194.77 568.5,194.76 570,194.75 571.5,194.74 573,194.74 574.5,194.73 576,194.72 577.5,194.71 579,194.71 580.5,194.7 582,194.69 583.5,194.68 585,194.68 586.5,194.67 588,194.66 589.5,194.65 591,194.65 592.5,194.64 594,194.63 595.5,194.62 597,194.62 598.5,194.61 600,194.6 601.5,194.6 603,194.59 604.5,194.59 606,194.58 607.5,194.58 609,194.58 610.5,194.57 612,194.57 613.5,194.56 615,194.56 616.5,194.56 618,194.55 619.5,194.55 621,194.54 622.5,194.54 624,194.54 625.5,194.53 627,194.53 628.5,194.52 630,194.52 631.5,194.52 633,194.51 634.5,194.51 636,194.51 637.5,194.5 639,194.5 640.5,194.49 642,194.49 643.5,194.49 645,194.48 646.5,194.48 648,194.47 649.5,194.47 651,194.47 652.5,194.46 654,194.46 655.5,194.45 657,194.45 658.5,194.45 660,194.44 661.5,194.44 663,194.43 664.5,194.43 666,194.43 667.5,194.42 669,194.42 670.5,194.41 672,194.41 673.5,194.41 675,194.4 675.5,194.4" fill="none" stroke="#4a4a9a" stroke-width="0.9" stroke-linejoin="round"/>
<rect x="415.1" y="12.2" width="79.4" height="109.1" stroke="#9a9a9a" stroke-width="0.8" fill="#fff"/>
<line x1="419" y1="24.4" x2="446" y2="24.4" stroke="#333333" stroke-width="1.3" stroke-opacity="0.45"/>
<text transform="translate(451,27.2) scale(1.0,1)" font-size="9.7" fill="#1a1a1a" >5 nW</text>
<line x1="419" y1="39.47" x2="446" y2="39.47" stroke="#e64a52" stroke-width="1.3" stroke-opacity="0.45"/>
<text transform="translate(451,42.27) scale(1.0,1)" font-size="9.7" fill="#1a1a1a" >10 nW</text>
<line x1="419" y1="54.54" x2="446" y2="54.54" stroke="#3a3ad6" stroke-width="1.3" stroke-opacity="0.45"/>
<text transform="translate(451,57.34) scale(1.0,1)" font-size="9.7" fill="#1a1a1a" >30 nW</text>
<line x1="419" y1="69.61" x2="446" y2="69.61" stroke="#36a59d" stroke-width="1.3" stroke-opacity="0.45"/>
<text transform="translate(451,72.41) scale(1.0,1)" font-size="9.7" fill="#1a1a1a" >90 nW</text>
<line x1="419" y1="84.68" x2="446" y2="84.68" stroke="#e64de6" stroke-width="1.3" stroke-opacity="0.45"/>
<text transform="translate(451,87.48) scale(1.0,1)" font-size="9.7" fill="#1a1a1a" >500 nW</text>
<line x1="419" y1="99.75" x2="446" y2="99.75" stroke="#a85a68" stroke-width="1.3" stroke-opacity="0.45"/>
<text transform="translate(451,102.55) scale(1.0,1)" font-size="9.7" fill="#1a1a1a" >1.5 μW</text>
<line x1="419" y1="114.82" x2="446" y2="114.82" stroke="#4a4a9a" stroke-width="1.3" stroke-opacity="0.45"/>
<text transform="translate(451,117.62) scale(1.0,1)" font-size="9.7" fill="#1a1a1a" >5.0 μW</text>
<rect x="412.5" y="10.8" width="263.8" height="193.6" stroke="#474747" stroke-width="1" fill="none"/>
<line x1="412.5" y1="204.4" x2="412.5" y2="206.9" stroke="#474747" stroke-width="1" />
<line x1="441.81" y1="204.4" x2="441.81" y2="208.4" stroke="#474747" stroke-width="1" />
<text transform="translate(441.21,222) scale(1.07,1)" font-size="10.3" text-anchor="middle" fill="#1a1a1a" >−20</text>
<line x1="471.12" y1="204.4" x2="471.12" y2="206.9" stroke="#474747" stroke-width="1" />
<line x1="500.43" y1="204.4" x2="500.43" y2="208.4" stroke="#474747" stroke-width="1" />
<text transform="translate(500.63,222) scale(1.07,1)" font-size="10.3" text-anchor="middle" fill="#1a1a1a" >0</text>
<line x1="529.74" y1="204.4" x2="529.74" y2="206.9" stroke="#474747" stroke-width="1" />
<line x1="559.05" y1="204.4" x2="559.05" y2="208.4" stroke="#474747" stroke-width="1" />
<text transform="translate(559.25,222) scale(1.07,1)" font-size="10.3" text-anchor="middle" fill="#1a1a1a" >20</text>
<line x1="588.37" y1="204.4" x2="588.37" y2="206.9" stroke="#474747" stroke-width="1" />
<line x1="617.68" y1="204.4" x2="617.68" y2="208.4" stroke="#474747" stroke-width="1" />
<text transform="translate(617.88,222) scale(1.07,1)" font-size="10.3" text-anchor="middle" fill="#1a1a1a" >40</text>
<line x1="646.99" y1="204.4" x2="646.99" y2="206.9" stroke="#474747" stroke-width="1" />
<line x1="676.3" y1="204.4" x2="676.3" y2="208.4" stroke="#474747" stroke-width="1" />
<text transform="translate(676.5,222) scale(1.07,1)" font-size="10.3" text-anchor="middle" fill="#1a1a1a" >60</text>
<line x1="408.5" y1="196.1" x2="412.5" y2="196.1" stroke="#474747" stroke-width="1" />
<text transform="translate(404,199.8) scale(1.07,1)" font-size="10.5" text-anchor="end" fill="#1a1a1a" >0</text>
<line x1="410.5" y1="179.25" x2="412.5" y2="179.25" stroke="#474747" stroke-width="1" />
<line x1="408.5" y1="162.4" x2="412.5" y2="162.4" stroke="#474747" stroke-width="1" />
<text transform="translate(404,166.1) scale(1.07,1)" font-size="10.5" text-anchor="end" fill="#1a1a1a" >2000</text>
<line x1="410.5" y1="145.55" x2="412.5" y2="145.55" stroke="#474747" stroke-width="1" />
<line x1="408.5" y1="128.7" x2="412.5" y2="128.7" stroke="#474747" stroke-width="1" />
<text transform="translate(404,132.4) scale(1.07,1)" font-size="10.5" text-anchor="end" fill="#1a1a1a" >4000</text>
<line x1="410.5" y1="111.85" x2="412.5" y2="111.85" stroke="#474747" stroke-width="1" />
<line x1="408.5" y1="95" x2="412.5" y2="95" stroke="#474747" stroke-width="1" />
<text transform="translate(404,98.7) scale(1.07,1)" font-size="10.5" text-anchor="end" fill="#1a1a1a" >6000</text>
<line x1="410.5" y1="78.15" x2="412.5" y2="78.15" stroke="#474747" stroke-width="1" />
<line x1="408.5" y1="61.3" x2="412.5" y2="61.3" stroke="#474747" stroke-width="1" />
<text transform="translate(404,65) scale(1.07,1)" font-size="10.5" text-anchor="end" fill="#1a1a1a" >8000</text>
<line x1="410.5" y1="44.45" x2="412.5" y2="44.45" stroke="#474747" stroke-width="1" />
<line x1="408.5" y1="27.6" x2="412.5" y2="27.6" stroke="#474747" stroke-width="1" />
<text transform="translate(404,31.3) scale(1.07,1)" font-size="10.5" text-anchor="end" fill="#1a1a1a" >10,000</text>
<line x1="410.5" y1="10.75" x2="412.5" y2="10.75" stroke="#474747" stroke-width="1" />
<text transform="translate(362.4,107.5) rotate(-90) scale(1.11,1)" font-size="10.3" text-anchor="middle" fill="#1a1a1a" >Responsivity (A W<tspan font-size="7" dy="-3.8">−1</tspan><tspan dy="3.8">)</tspan></text>
<text transform="translate(545.3,238.5) scale(1.07,1)" font-size="10.6" text-anchor="middle" fill="#1a1a1a" ><tspan font-style="italic">V</tspan><tspan font-size="7.3" dy="2.6">G</tspan><tspan dy="-2.6"> (V)</tspan></text>
<text transform="translate(1.5,269) scale(1.0,1)" font-size="16" font-weight="bold" fill="#000" >c</text>
<path d="M80,284.2 C83.62,284.72 92.4,285.32 101.7,287.3 C111,289.28 124.4,292.87 135.8,296.1 C147.2,299.33 155.42,301.7 170.1,306.7 C184.78,311.7 209.17,320.72 223.9,326.1 C238.63,331.48 246.5,334.2 258.5,339 C270.5,343.8 289.67,352.25 295.9,354.9" fill="none" stroke="#3c3ce0" stroke-width="0.9" stroke-linejoin="round" />
<path d="M80,373.4 C83.63,373.98 92.43,374.87 101.8,376.9 C111.17,378.93 124.8,382.35 136.2,385.6 C147.6,388.85 155.58,391.37 170.2,396.4 C184.82,401.43 209.18,410.48 223.9,415.8 C238.62,421.12 246.5,423.53 258.5,428.3 C270.5,433.07 289.67,441.72 295.9,444.4" fill="none" stroke="#e35a5a" stroke-width="0.9" stroke-linejoin="round" />
<circle cx="80" cy="284.2" r="3.1" fill="#0a0ae8"/>
<circle cx="101.7" cy="287.3" r="3.1" fill="#0a0ae8"/>
<circle cx="135.8" cy="296.1" r="3.1" fill="#0a0ae8"/>
<circle cx="170.1" cy="306.7" r="3.1" fill="#0a0ae8"/>
<circle cx="223.9" cy="326.1" r="3.1" fill="#0a0ae8"/>
<circle cx="258.5" cy="339" r="3.1" fill="#0a0ae8"/>
<circle cx="295.9" cy="354.9" r="3.1" fill="#0a0ae8"/>
<circle cx="80" cy="373.4" r="3" fill="#fff" stroke="#e04848" stroke-width="0.9"/>
<circle cx="101.8" cy="376.9" r="3" fill="#fff" stroke="#e04848" stroke-width="0.9"/>
<circle cx="136.2" cy="385.6" r="3" fill="#fff" stroke="#e04848" stroke-width="0.9"/>
<circle cx="170.2" cy="396.4" r="3" fill="#fff" stroke="#e04848" stroke-width="0.9"/>
<circle cx="223.9" cy="415.8" r="3" fill="#fff" stroke="#e04848" stroke-width="0.9"/>
<circle cx="258.5" cy="428.3" r="3" fill="#fff" stroke="#e04848" stroke-width="0.9"/>
<circle cx="295.9" cy="444.4" r="3" fill="#fff" stroke="#e04848" stroke-width="0.9"/>
<polygon points="192,299.3 199.4,299.3 195.7,292.9" fill="#000"/>
<polygon points="242.1,326.1 249.5,326.1 245.8,319.7" fill="#000"/>
<polygon points="292.4,344.5 299.8,344.5 296.1,338.1" fill="#000"/>
<polygon points="192,350.6 199.4,350.6 195.7,344.2" fill="#fff" stroke="#333" stroke-width="0.8"/>
<polygon points="242.1,362.9 249.5,362.9 245.8,356.5" fill="#fff" stroke="#333" stroke-width="0.8"/>
<polygon points="292.4,386.3 299.8,386.3 296.1,379.9" fill="#fff" stroke="#333" stroke-width="0.8"/>
<rect x="54.8" y="391.8" width="67.9" height="67.9" stroke="#9a9a9a" stroke-width="0.8" fill="#fff"/>
<line x1="57" y1="403.5" x2="84.6" y2="403.5" stroke="#3c3ce0" stroke-width="0.9" />
<circle cx="71.5" cy="403.5" r="3.1" fill="#0a0ae8"/>
<line x1="57" y1="418.4" x2="84.6" y2="418.4" stroke="#e35a5a" stroke-width="0.9" />
<circle cx="71.5" cy="418.4" r="3" fill="#fff" stroke="#e04848" stroke-width="0.9"/>
<polygon points="67.8,436 75.2,436 71.5,429.6" fill="#000"/>
<polygon points="67.8,451.2 75.2,451.2 71.5,444.8" fill="#fff" stroke="#333" stroke-width="0.8"/>
<text transform="translate(89.2,407.3) scale(1.07,1)" font-size="10.3" fill="#1a1a1a" >G<tspan font-size="5.9" dy="1.6">inher</tspan></text>
<text transform="translate(89.2,422.2) scale(1.07,1)" font-size="10.3" fill="#1a1a1a" >G<tspan font-size="5.9" dy="1.6">meas</tspan></text>
<text transform="translate(89.2,436.6) scale(1.07,1)" font-size="10.3" fill="#1a1a1a" >G<tspan font-size="5.9" dy="1.6">τmax</tspan></text>
<text transform="translate(89.2,451.8) scale(1.07,1)" font-size="10.3" fill="#1a1a1a" >G<tspan font-size="5.9" dy="1.6">τmin</tspan></text>
<rect x="51.5" y="264.3" width="266" height="198.7" stroke="#474747" stroke-width="1" fill="none"/>
<line x1="63.62" y1="463" x2="63.62" y2="465" stroke="#474747" stroke-width="0.8" />
<line x1="72.62" y1="463" x2="72.62" y2="465" stroke="#474747" stroke-width="0.8" />
<line x1="79.6" y1="463" x2="79.6" y2="465" stroke="#474747" stroke-width="0.8" />
<line x1="85.31" y1="463" x2="85.31" y2="465" stroke="#474747" stroke-width="0.8" />
<line x1="90.14" y1="463" x2="90.14" y2="465" stroke="#474747" stroke-width="0.8" />
<line x1="94.32" y1="463" x2="94.32" y2="465" stroke="#474747" stroke-width="0.8" />
<line x1="98" y1="463" x2="98" y2="465" stroke="#474747" stroke-width="0.8" />
<line x1="101.3" y1="463" x2="101.3" y2="467" stroke="#474747" stroke-width="1" />
<text transform="translate(101.3,480) scale(1.07,1)" font-size="10.3" text-anchor="middle" fill="#1a1a1a" >1E-8</text>
<line x1="123" y1="463" x2="123" y2="465" stroke="#474747" stroke-width="0.8" />
<line x1="135.69" y1="463" x2="135.69" y2="465" stroke="#474747" stroke-width="0.8" />
<line x1="144.69" y1="463" x2="144.69" y2="465" stroke="#474747" stroke-width="0.8" />
<line x1="151.67" y1="463" x2="151.67" y2="465" stroke="#474747" stroke-width="0.8" />
<line x1="157.38" y1="463" x2="157.38" y2="465" stroke="#474747" stroke-width="0.8" />
<line x1="162.21" y1="463" x2="162.21" y2="465" stroke="#474747" stroke-width="0.8" />
<line x1="166.39" y1="463" x2="166.39" y2="465" stroke="#474747" stroke-width="0.8" />
<line x1="170.07" y1="463" x2="170.07" y2="465" stroke="#474747" stroke-width="0.8" />
<line x1="173.37" y1="463" x2="173.37" y2="467" stroke="#474747" stroke-width="1" />
<text transform="translate(173.37,480) scale(1.07,1)" font-size="10.3" text-anchor="middle" fill="#1a1a1a" >1E-7</text>
<line x1="195.07" y1="463" x2="195.07" y2="465" stroke="#474747" stroke-width="0.8" />
<line x1="207.76" y1="463" x2="207.76" y2="465" stroke="#474747" stroke-width="0.8" />
<line x1="216.76" y1="463" x2="216.76" y2="465" stroke="#474747" stroke-width="0.8" />
<line x1="223.74" y1="463" x2="223.74" y2="465" stroke="#474747" stroke-width="0.8" />
<line x1="229.45" y1="463" x2="229.45" y2="465" stroke="#474747" stroke-width="0.8" />
<line x1="234.28" y1="463" x2="234.28" y2="465" stroke="#474747" stroke-width="0.8" />
<line x1="238.46" y1="463" x2="238.46" y2="465" stroke="#474747" stroke-width="0.8" />
<line x1="242.14" y1="463" x2="242.14" y2="465" stroke="#474747" stroke-width="0.8" />
<line x1="245.44" y1="463" x2="245.44" y2="467" stroke="#474747" stroke-width="1" />
<text transform="translate(245.44,480) scale(1.07,1)" font-size="10.3" text-anchor="middle" fill="#1a1a1a" >1E-6</text>
<line x1="267.14" y1="463" x2="267.14" y2="465" stroke="#474747" stroke-width="0.8" />
<line x1="279.83" y1="463" x2="279.83" y2="465" stroke="#474747" stroke-width="0.8" />
<line x1="288.83" y1="463" x2="288.83" y2="465" stroke="#474747" stroke-width="0.8" />
<line x1="295.81" y1="463" x2="295.81" y2="465" stroke="#474747" stroke-width="0.8" />
<line x1="301.52" y1="463" x2="301.52" y2="465" stroke="#474747" stroke-width="0.8" />
<line x1="306.35" y1="463" x2="306.35" y2="465" stroke="#474747" stroke-width="0.8" />
<line x1="310.53" y1="463" x2="310.53" y2="465" stroke="#474747" stroke-width="0.8" />
<line x1="314.21" y1="463" x2="314.21" y2="465" stroke="#474747" stroke-width="0.8" />
<line x1="317.51" y1="463" x2="317.51" y2="467" stroke="#474747" stroke-width="1" />
<text transform="translate(317.51,480) scale(1.07,1)" font-size="10.3" text-anchor="middle" fill="#1a1a1a" >1E-5</text>
<line x1="49.5" y1="462.63" x2="51.5" y2="462.63" stroke="#474747" stroke-width="0.8" />
<line x1="49.5" y1="460.02" x2="51.5" y2="460.02" stroke="#474747" stroke-width="0.8" />
<line x1="49.5" y1="457.81" x2="51.5" y2="457.81" stroke="#474747" stroke-width="0.8" />
<line x1="49.5" y1="455.9" x2="51.5" y2="455.9" stroke="#474747" stroke-width="0.8" />
<line x1="49.5" y1="454.21" x2="51.5" y2="454.21" stroke="#474747" stroke-width="0.8" />
<line x1="47.2" y1="452.7" x2="51.5" y2="452.7" stroke="#474747" stroke-width="1" />
<text transform="translate(44.2,456.6) scale(1.07,1)" font-size="10.3" text-anchor="end" fill="#1a1a1a" >10<tspan font-size="6.6" dy="-4.9">2</tspan></text>
<line x1="49.5" y1="442.77" x2="51.5" y2="442.77" stroke="#474747" stroke-width="0.8" />
<line x1="49.5" y1="436.95" x2="51.5" y2="436.95" stroke="#474747" stroke-width="0.8" />
<line x1="49.5" y1="432.83" x2="51.5" y2="432.83" stroke="#474747" stroke-width="0.8" />
<line x1="49.5" y1="429.63" x2="51.5" y2="429.63" stroke="#474747" stroke-width="0.8" />
<line x1="49.5" y1="427.02" x2="51.5" y2="427.02" stroke="#474747" stroke-width="0.8" />
<line x1="49.5" y1="424.81" x2="51.5" y2="424.81" stroke="#474747" stroke-width="0.8" />
<line x1="49.5" y1="422.9" x2="51.5" y2="422.9" stroke="#474747" stroke-width="0.8" />
<line x1="49.5" y1="421.21" x2="51.5" y2="421.21" stroke="#474747" stroke-width="0.8" />
<line x1="47.2" y1="419.7" x2="51.5" y2="419.7" stroke="#474747" stroke-width="1" />
<text transform="translate(44.2,423.6) scale(1.07,1)" font-size="10.3" text-anchor="end" fill="#1a1a1a" >10<tspan font-size="6.6" dy="-4.9">3</tspan></text>
<line x1="49.5" y1="409.77" x2="51.5" y2="409.77" stroke="#474747" stroke-width="0.8" />
<line x1="49.5" y1="403.95" x2="51.5" y2="403.95" stroke="#474747" stroke-width="0.8" />
<line x1="49.5" y1="399.83" x2="51.5" y2="399.83" stroke="#474747" stroke-width="0.8" />
<line x1="49.5" y1="396.63" x2="51.5" y2="396.63" stroke="#474747" stroke-width="0.8" />
<line x1="49.5" y1="394.02" x2="51.5" y2="394.02" stroke="#474747" stroke-width="0.8" />
<line x1="49.5" y1="391.81" x2="51.5" y2="391.81" stroke="#474747" stroke-width="0.8" />
<line x1="49.5" y1="389.9" x2="51.5" y2="389.9" stroke="#474747" stroke-width="0.8" />
<line x1="49.5" y1="388.21" x2="51.5" y2="388.21" stroke="#474747" stroke-width="0.8" />
<line x1="47.2" y1="386.7" x2="51.5" y2="386.7" stroke="#474747" stroke-width="1" />
<text transform="translate(44.2,390.6) scale(1.07,1)" font-size="10.3" text-anchor="end" fill="#1a1a1a" >10<tspan font-size="6.6" dy="-4.9">4</tspan></text>
<line x1="49.5" y1="376.77" x2="51.5" y2="376.77" stroke="#474747" stroke-width="0.8" />
<line x1="49.5" y1="370.95" x2="51.5" y2="370.95" stroke="#474747" stroke-width="0.8" />
<line x1="49.5" y1="366.83" x2="51.5" y2="366.83" stroke="#474747" stroke-width="0.8" />
<line x1="49.5" y1="363.63" x2="51.5" y2="363.63" stroke="#474747" stroke-width="0.8" />
<line x1="49.5" y1="361.02" x2="51.5" y2="361.02" stroke="#474747" stroke-width="0.8" />
<line x1="49.5" y1="358.81" x2="51.5" y2="358.81" stroke="#474747" stroke-width="0.8" />
<line x1="49.5" y1="356.9" x2="51.5" y2="356.9" stroke="#474747" stroke-width="0.8" />
<line x1="49.5" y1="355.21" x2="51.5" y2="355.21" stroke="#474747" stroke-width="0.8" />
<line x1="47.2" y1="353.7" x2="51.5" y2="353.7" stroke="#474747" stroke-width="1" />
<text transform="translate(44.2,357.6) scale(1.07,1)" font-size="10.3" text-anchor="end" fill="#1a1a1a" >10<tspan font-size="6.6" dy="-4.9">5</tspan></text>
<line x1="49.5" y1="343.77" x2="51.5" y2="343.77" stroke="#474747" stroke-width="0.8" />
<line x1="49.5" y1="337.95" x2="51.5" y2="337.95" stroke="#474747" stroke-width="0.8" />
<line x1="49.5" y1="333.83" x2="51.5" y2="333.83" stroke="#474747" stroke-width="0.8" />
<line x1="49.5" y1="330.63" x2="51.5" y2="330.63" stroke="#474747" stroke-width="0.8" />
<line x1="49.5" y1="328.02" x2="51.5" y2="328.02" stroke="#474747" stroke-width="0.8" />
<line x1="49.5" y1="325.81" x2="51.5" y2="325.81" stroke="#474747" stroke-width="0.8" />
<line x1="49.5" y1="323.9" x2="51.5" y2="323.9" stroke="#474747" stroke-width="0.8" />
<line x1="49.5" y1="322.21" x2="51.5" y2="322.21" stroke="#474747" stroke-width="0.8" />
<line x1="47.2" y1="320.7" x2="51.5" y2="320.7" stroke="#474747" stroke-width="1" />
<text transform="translate(44.2,324.6) scale(1.07,1)" font-size="10.3" text-anchor="end" fill="#1a1a1a" >10<tspan font-size="6.6" dy="-4.9">6</tspan></text>
<line x1="49.5" y1="310.77" x2="51.5" y2="310.77" stroke="#474747" stroke-width="0.8" />
<line x1="49.5" y1="304.95" x2="51.5" y2="304.95" stroke="#474747" stroke-width="0.8" />
<line x1="49.5" y1="300.83" x2="51.5" y2="300.83" stroke="#474747" stroke-width="0.8" />
<line x1="49.5" y1="297.63" x2="51.5" y2="297.63" stroke="#474747" stroke-width="0.8" />
<line x1="49.5" y1="295.02" x2="51.5" y2="295.02" stroke="#474747" stroke-width="0.8" />
<line x1="49.5" y1="292.81" x2="51.5" y2="292.81" stroke="#474747" stroke-width="0.8" />
<line x1="49.5" y1="290.9" x2="51.5" y2="290.9" stroke="#474747" stroke-width="0.8" />
<line x1="49.5" y1="289.21" x2="51.5" y2="289.21" stroke="#474747" stroke-width="0.8" />
<line x1="47.2" y1="287.7" x2="51.5" y2="287.7" stroke="#474747" stroke-width="1" />
<text transform="translate(44.2,291.6) scale(1.07,1)" font-size="10.3" text-anchor="end" fill="#1a1a1a" >10<tspan font-size="6.6" dy="-4.9">7</tspan></text>
<line x1="49.5" y1="277.77" x2="51.5" y2="277.77" stroke="#474747" stroke-width="0.8" />
<line x1="49.5" y1="271.95" x2="51.5" y2="271.95" stroke="#474747" stroke-width="0.8" />
<line x1="49.5" y1="267.83" x2="51.5" y2="267.83" stroke="#474747" stroke-width="0.8" />
<line x1="49.5" y1="264.63" x2="51.5" y2="264.63" stroke="#474747" stroke-width="0.8" />
<text transform="translate(20.6,363.4) rotate(-90) scale(1.09,1)" font-size="10.3" text-anchor="middle" fill="#1a1a1a" >Photoconductive gain</text>
<text transform="translate(184.6,496) scale(1.07,1)" font-size="10.6" text-anchor="middle" fill="#1a1a1a" >Irradiation power (W)</text>
<text transform="translate(352.5,268.6) scale(1.0,1)" font-size="15.5" font-weight="bold" fill="#000" >d</text>
<path d="M418.3,451.6 C422.08,451.5 435.05,451.27 441,451 C446.95,450.73 449.85,450.48 454,450 C458.15,449.52 461.92,449.28 465.9,448.1 C469.88,446.92 473.9,444.77 477.9,442.9 C481.9,441.03 486.22,438.78 489.9,436.9 C493.58,435.02 496.15,433.98 500,431.6 C503.85,429.22 508.75,425.75 513,422.6 C517.25,419.45 521.02,416 525.5,412.7 C529.98,409.4 535.42,405.45 539.9,402.8 C544.38,400.15 548.22,398.55 552.4,396.8 C556.58,395.05 560.15,394.12 565,392.3 C569.85,390.48 575.3,388 581.5,385.9 C587.7,383.8 595.3,381.53 602.2,379.7 C609.1,377.87 616,376.38 622.9,374.9 C629.8,373.42 636.68,372 643.6,370.8 C650.52,369.6 658.68,368.47 664.4,367.7 C670.12,366.93 675.65,366.45 677.9,366.2" fill="none" stroke="#e8514a" stroke-width="0.9" stroke-linejoin="round" />
<path d="M418.3,451.5 C422.08,451.35 435.05,451.13 441,450.6 C446.95,450.07 449.85,449.28 454,448.3 C458.15,447.32 461.92,446.4 465.9,444.7 C469.88,443 473.9,440.6 477.9,438.1 C481.9,435.6 486.22,432.45 489.9,429.7 C493.58,426.95 496.15,425.18 500,421.6 C503.85,418.02 507.85,413.72 513,408.2 C518.15,402.68 525.52,393.88 530.9,388.5 C536.28,383.12 541.12,378.93 545.3,375.9 C549.48,372.87 551.92,372.08 556,370.3 C560.08,368.52 564.82,366.62 569.8,365.2 C574.78,363.78 579.4,363.33 585.9,361.8 C592.4,360.27 601.15,358.12 608.8,356 C616.45,353.88 624.15,351.27 631.8,349.1 C639.45,346.93 647.07,344.9 654.7,343 C662.33,341.1 673.78,338.58 677.6,337.7" fill="none" stroke="#3fa64a" stroke-width="0.9" stroke-linejoin="round" />
<path d="M418.3,451.4 C420.25,451.08 426.05,450.12 430,449.5 C433.95,448.88 438,448.4 442,447.7 C446,447 450.02,446.5 454,445.3 C457.98,444.1 461.92,442.5 465.9,440.5 C469.88,438.5 473.9,435.8 477.9,433.3 C481.9,430.8 486.22,428.18 489.9,425.5 C493.58,422.82 496.15,420.83 500,417.2 C503.85,413.57 508.75,408.48 513,403.7 C517.25,398.92 521.62,393.08 525.5,388.5 C529.38,383.92 532.42,379.5 536.3,376.2 C540.18,372.9 544.02,371.15 548.8,368.7 C553.58,366.25 558.82,363.8 565,361.5 C571.18,359.2 578.6,357.15 585.9,354.9 C593.2,352.65 601.15,349.98 608.8,348 C616.45,346.02 624.15,344.72 631.8,343 C639.45,341.28 647.07,339.35 654.7,337.7 C662.33,336.05 673.78,333.87 677.6,333.1" fill="none" stroke="#e8514a" stroke-width="0.9" stroke-dasharray="2.2,2" stroke-linejoin="round" />
<path d="M418.3,450.6 C420.25,449.92 426.05,447.68 430,446.5 C433.95,445.32 438,444.9 442,443.5 C446,442.1 450.02,440.4 454,438.1 C457.98,435.8 461.92,432.88 465.9,429.7 C469.88,426.52 473.9,422.78 477.9,419 C481.9,415.22 486.22,410.7 489.9,407 C493.58,403.3 496.15,401.08 500,396.8 C503.85,392.52 508.75,386.28 513,381.3 C517.25,376.32 521.92,371.28 525.5,366.9 C529.08,362.52 531.2,358.13 534.5,355 C537.8,351.87 541.72,350.52 545.3,348.1 C548.88,345.68 553.07,342.58 556,340.5 C558.93,338.42 559.07,338.32 562.9,335.6 C566.73,332.88 574.02,327.3 579,324.2 C583.98,321.1 587.83,319.53 592.8,317 C597.77,314.47 603.45,311.28 608.8,309 C614.15,306.72 619.17,305.6 624.9,303.3 C630.63,301 637.08,297.77 643.2,295.2 C649.32,292.63 655.87,289.62 661.6,287.9 C667.33,286.18 674.93,285.4 677.6,284.9" fill="none" stroke="#3fa64a" stroke-width="0.9" stroke-dasharray="2.2,2" stroke-linejoin="round" />
<path d="M418.3,451.6 C422.08,451.5 435.05,451.22 441,451 C446.95,450.78 449.85,450.65 454,450.3 C458.15,449.95 461.92,449.53 465.9,448.9 C469.88,448.27 473.9,447.3 477.9,446.5 C481.9,445.7 486.22,444.98 489.9,444.1 C493.58,443.22 496.68,442.45 500,441.2 C503.32,439.95 506.3,438.23 509.8,436.6 C513.3,434.97 517.18,433.25 521,431.4 C524.82,429.55 528.07,427.63 532.7,425.5 C537.33,423.37 544.13,420.88 548.8,418.6 C553.47,416.32 555.25,414.8 560.7,411.8 C566.15,408.8 575.62,403.18 581.5,400.6 C587.38,398.02 589.1,398.05 596,396.3 C602.9,394.55 614.97,391.83 622.9,390.1 C630.83,388.37 636.68,387.12 643.6,385.9 C650.52,384.68 658.73,383.48 664.4,382.8 C670.07,382.12 675.4,381.97 677.6,381.8" fill="none" stroke="#4b4bd8" stroke-width="0.9" stroke-dasharray="2.2,2" stroke-linejoin="round" />
<path d="M418.3,451.7 C429.72,451.63 469.65,451.63 486.8,451.3 C503.95,450.97 512.33,449.98 521.2,449.7 C530.07,449.42 533.53,449.97 540,449.6 C546.47,449.23 553.08,448.1 560,447.5 C566.92,446.9 574.5,446.5 581.5,446 C588.5,445.5 595.1,445.02 602,444.5 C608.9,443.98 614.23,443.52 622.9,442.9 C631.57,442.28 644.83,441.25 654,440.8 C663.17,440.35 673.92,440.3 677.9,440.2" fill="none" stroke="#4b4bd8" stroke-width="0.9" stroke-linejoin="round" />
<rect x="425.5" y="277.5" width="90" height="78.1" stroke="#a8a8a8" stroke-width="0.9" fill="#fff"/>
<line x1="470.3" y1="277.5" x2="470.3" y2="355.6" stroke="#9a9a9a" stroke-width="0.8" />
<text transform="translate(430.3,297.7) scale(1.11,1)" font-size="10.3" fill="#1a1a1a" >487 nm</text>
<text transform="translate(430.3,310.8) scale(1.12,1)" font-size="10.3" fill="#1a1a1a" >Irradi.</text>
<text transform="translate(475.3,297.7) scale(1.11,1)" font-size="10.3" fill="#1a1a1a" >403 nm</text>
<text transform="translate(475.3,310.8) scale(1.12,1)" font-size="10.3" fill="#1a1a1a" >Irradi.</text>
<line x1="430.6" y1="321" x2="454.8" y2="321" stroke="#e8514a" stroke-width="1.1" stroke-opacity="0.6"/>
<line x1="474.9" y1="321" x2="499.4" y2="321" stroke="#e8514a" stroke-width="1.0" stroke-dasharray="2.2,2" stroke-opacity="0.6"/>
<text transform="translate(460.4,324.6) scale(1.0,1)" font-size="10" fill="#1a1a1a" >R</text>
<text transform="translate(505.2,324.6) scale(1.0,1)" font-size="10" fill="#1a1a1a" >R</text>
<line x1="430.6" y1="334.6" x2="454.8" y2="334.6" stroke="#3fa64a" stroke-width="1.1" stroke-opacity="0.6"/>
<line x1="474.9" y1="334.6" x2="499.4" y2="334.6" stroke="#3fa64a" stroke-width="1.0" stroke-dasharray="2.2,2" stroke-opacity="0.6"/>
<text transform="translate(460.4,338.2) scale(1.0,1)" font-size="10" fill="#1a1a1a" >G</text>
<text transform="translate(505.2,338.2) scale(1.0,1)" font-size="10" fill="#1a1a1a" >G</text>
<line x1="430.6" y1="348.5" x2="454.8" y2="348.5" stroke="#4b4bd8" stroke-width="1.1" stroke-opacity="0.6"/>
<line x1="474.9" y1="348.5" x2="499.4" y2="348.5" stroke="#4b4bd8" stroke-width="1.0" stroke-dasharray="2.2,2" stroke-opacity="0.6"/>
<text transform="translate(460.4,352.1) scale(1.0,1)" font-size="10" fill="#1a1a1a" >B</text>
<text transform="translate(505.2,352.1) scale(1.0,1)" font-size="10" fill="#1a1a1a" >B</text>
<rect x="418.3" y="274.3" width="260.5" height="188.6" stroke="#474747" stroke-width="1" fill="none"/>
<line x1="418.3" y1="462.9" x2="418.3" y2="465.4" stroke="#474747" stroke-width="1" />
<line x1="447.24" y1="462.9" x2="447.24" y2="466.9" stroke="#474747" stroke-width="1" />
<text transform="translate(446.64,479.2) scale(1.07,1)" font-size="10.3" text-anchor="middle" fill="#1a1a1a" >−20</text>
<line x1="476.18" y1="462.9" x2="476.18" y2="465.4" stroke="#474747" stroke-width="1" />
<line x1="505.12" y1="462.9" x2="505.12" y2="466.9" stroke="#474747" stroke-width="1" />
<text transform="translate(505.32,479.2) scale(1.07,1)" font-size="10.3" text-anchor="middle" fill="#1a1a1a" >0</text>
<line x1="534.06" y1="462.9" x2="534.06" y2="465.4" stroke="#474747" stroke-width="1" />
<line x1="563" y1="462.9" x2="563" y2="466.9" stroke="#474747" stroke-width="1" />
<text transform="translate(563.2,479.2) scale(1.07,1)" font-size="10.3" text-anchor="middle" fill="#1a1a1a" >20</text>
<line x1="591.94" y1="462.9" x2="591.94" y2="465.4" stroke="#474747" stroke-width="1" />
<line x1="620.88" y1="462.9" x2="620.88" y2="466.9" stroke="#474747" stroke-width="1" />
<text transform="translate(621.08,479.2) scale(1.07,1)" font-size="10.3" text-anchor="middle" fill="#1a1a1a" >40</text>
<line x1="649.82" y1="462.9" x2="649.82" y2="465.4" stroke="#474747" stroke-width="1" />
<line x1="678.76" y1="462.9" x2="678.76" y2="466.9" stroke="#474747" stroke-width="1" />
<text transform="translate(678.96,479.2) scale(1.07,1)" font-size="10.3" text-anchor="middle" fill="#1a1a1a" >60</text>
<line x1="414.3" y1="451.5" x2="418.3" y2="451.5" stroke="#474747" stroke-width="1" />
<text transform="translate(410,455.2) scale(1.07,1)" font-size="10.5" text-anchor="end" fill="#1a1a1a" >0</text>
<line x1="416.3" y1="429.4" x2="418.3" y2="429.4" stroke="#474747" stroke-width="1" />
<line x1="414.3" y1="407.3" x2="418.3" y2="407.3" stroke="#474747" stroke-width="1" />
<text transform="translate(410,411) scale(1.07,1)" font-size="10.5" text-anchor="end" fill="#1a1a1a" >4000</text>
<line x1="416.3" y1="385.2" x2="418.3" y2="385.2" stroke="#474747" stroke-width="1" />
<line x1="414.3" y1="363.1" x2="418.3" y2="363.1" stroke="#474747" stroke-width="1" />
<text transform="translate(410,366.8) scale(1.07,1)" font-size="10.5" text-anchor="end" fill="#1a1a1a" >8000</text>
<line x1="416.3" y1="341" x2="418.3" y2="341" stroke="#474747" stroke-width="1" />
<line x1="414.3" y1="318.9" x2="418.3" y2="318.9" stroke="#474747" stroke-width="1" />
<text transform="translate(410,322.6) scale(1.07,1)" font-size="10.5" text-anchor="end" fill="#1a1a1a" >12,000</text>
<line x1="416.3" y1="296.8" x2="418.3" y2="296.8" stroke="#474747" stroke-width="1" />
<line x1="414.3" y1="274.7" x2="418.3" y2="274.7" stroke="#474747" stroke-width="1" />
<text transform="translate(410,278.4) scale(1.07,1)" font-size="10.5" text-anchor="end" fill="#1a1a1a" >16,000</text>
<text transform="translate(366.8,367.3) rotate(-90) scale(1.11,1)" font-size="10.3" text-anchor="middle" fill="#1a1a1a" >Responsivity (A W<tspan font-size="7" dy="-3.8">−1</tspan><tspan dy="3.8">)</tspan></text>
<text transform="translate(548.5,495.7) scale(1.07,1)" font-size="10.6" text-anchor="middle" fill="#1a1a1a" ><tspan font-style="italic">V</tspan><tspan font-size="7.3" dy="2.6">G</tspan><tspan dy="-2.6"> (V)</tspan></text>
</svg></body></html>
